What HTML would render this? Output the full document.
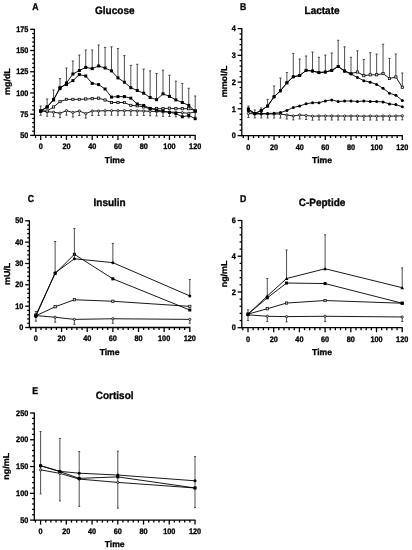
<!DOCTYPE html>
<html><head><meta charset="utf-8"><style>
html,body{margin:0;padding:0;background:#fff;}
body{width:412px;height:550px;overflow:hidden;}
svg{display:block;will-change:transform;}
text{font-family:"Liberation Sans", sans-serif;font-weight:bold;fill:#000;stroke:#000;stroke-width:0.3px;text-rendering:geometricPrecision;}
</style></head><body>
<svg width="412" height="550" viewBox="0 0 412 550">
<rect width="412" height="550" fill="#fff"/>
<line x1="34.40" y1="28.80" x2="34.40" y2="135.95" stroke="#000" stroke-width="1.3"/>
<line x1="33.85" y1="135.40" x2="195.75" y2="135.40" stroke="#000" stroke-width="1.3"/>
<line x1="30.20" y1="135.40" x2="34.40" y2="135.40" stroke="#000" stroke-width="1.3"/>
<text x="0" y="0" font-size="7.3" text-anchor="end" transform="translate(28.40 138.05) scale(1 1.1)">50</text>
<line x1="32.20" y1="131.16" x2="34.40" y2="131.16" stroke="#000" stroke-width="1.3"/>
<line x1="32.20" y1="126.91" x2="34.40" y2="126.91" stroke="#000" stroke-width="1.3"/>
<line x1="32.20" y1="122.67" x2="34.40" y2="122.67" stroke="#000" stroke-width="1.3"/>
<line x1="32.20" y1="118.42" x2="34.40" y2="118.42" stroke="#000" stroke-width="1.3"/>
<line x1="30.20" y1="114.18" x2="34.40" y2="114.18" stroke="#000" stroke-width="1.3"/>
<text x="0" y="0" font-size="7.3" text-anchor="end" transform="translate(28.40 116.83) scale(1 1.1)">75</text>
<line x1="32.20" y1="109.94" x2="34.40" y2="109.94" stroke="#000" stroke-width="1.3"/>
<line x1="32.20" y1="105.69" x2="34.40" y2="105.69" stroke="#000" stroke-width="1.3"/>
<line x1="32.20" y1="101.45" x2="34.40" y2="101.45" stroke="#000" stroke-width="1.3"/>
<line x1="32.20" y1="97.20" x2="34.40" y2="97.20" stroke="#000" stroke-width="1.3"/>
<line x1="30.20" y1="92.96" x2="34.40" y2="92.96" stroke="#000" stroke-width="1.3"/>
<text x="0" y="0" font-size="7.3" text-anchor="end" transform="translate(28.40 95.61) scale(1 1.1)">100</text>
<line x1="32.20" y1="88.72" x2="34.40" y2="88.72" stroke="#000" stroke-width="1.3"/>
<line x1="32.20" y1="84.47" x2="34.40" y2="84.47" stroke="#000" stroke-width="1.3"/>
<line x1="32.20" y1="80.23" x2="34.40" y2="80.23" stroke="#000" stroke-width="1.3"/>
<line x1="32.20" y1="75.98" x2="34.40" y2="75.98" stroke="#000" stroke-width="1.3"/>
<line x1="30.20" y1="71.74" x2="34.40" y2="71.74" stroke="#000" stroke-width="1.3"/>
<text x="0" y="0" font-size="7.3" text-anchor="end" transform="translate(28.40 74.39) scale(1 1.1)">125</text>
<line x1="32.20" y1="67.50" x2="34.40" y2="67.50" stroke="#000" stroke-width="1.3"/>
<line x1="32.20" y1="63.25" x2="34.40" y2="63.25" stroke="#000" stroke-width="1.3"/>
<line x1="32.20" y1="59.01" x2="34.40" y2="59.01" stroke="#000" stroke-width="1.3"/>
<line x1="32.20" y1="54.76" x2="34.40" y2="54.76" stroke="#000" stroke-width="1.3"/>
<line x1="30.20" y1="50.52" x2="34.40" y2="50.52" stroke="#000" stroke-width="1.3"/>
<text x="0" y="0" font-size="7.3" text-anchor="end" transform="translate(28.40 53.17) scale(1 1.1)">150</text>
<line x1="32.20" y1="46.28" x2="34.40" y2="46.28" stroke="#000" stroke-width="1.3"/>
<line x1="32.20" y1="42.03" x2="34.40" y2="42.03" stroke="#000" stroke-width="1.3"/>
<line x1="32.20" y1="37.79" x2="34.40" y2="37.79" stroke="#000" stroke-width="1.3"/>
<line x1="32.20" y1="33.54" x2="34.40" y2="33.54" stroke="#000" stroke-width="1.3"/>
<line x1="30.20" y1="29.30" x2="34.40" y2="29.30" stroke="#000" stroke-width="1.3"/>
<text x="0" y="0" font-size="7.3" text-anchor="end" transform="translate(28.40 31.95) scale(1 1.1)">175</text>
<line x1="35.55" y1="135.40" x2="35.55" y2="137.90" stroke="#000" stroke-width="1.3"/>
<line x1="40.70" y1="135.40" x2="40.70" y2="139.90" stroke="#000" stroke-width="1.3"/>
<text x="0" y="0" font-size="7.3" text-anchor="middle" transform="translate(40.70 149.30) scale(1 1.1)">0</text>
<line x1="45.85" y1="135.40" x2="45.85" y2="137.90" stroke="#000" stroke-width="1.3"/>
<line x1="51.00" y1="135.40" x2="51.00" y2="137.90" stroke="#000" stroke-width="1.3"/>
<line x1="56.15" y1="135.40" x2="56.15" y2="137.90" stroke="#000" stroke-width="1.3"/>
<line x1="61.30" y1="135.40" x2="61.30" y2="137.90" stroke="#000" stroke-width="1.3"/>
<line x1="66.45" y1="135.40" x2="66.45" y2="139.90" stroke="#000" stroke-width="1.3"/>
<text x="0" y="0" font-size="7.3" text-anchor="middle" transform="translate(66.45 149.30) scale(1 1.1)">20</text>
<line x1="71.60" y1="135.40" x2="71.60" y2="137.90" stroke="#000" stroke-width="1.3"/>
<line x1="76.75" y1="135.40" x2="76.75" y2="137.90" stroke="#000" stroke-width="1.3"/>
<line x1="81.90" y1="135.40" x2="81.90" y2="137.90" stroke="#000" stroke-width="1.3"/>
<line x1="87.05" y1="135.40" x2="87.05" y2="137.90" stroke="#000" stroke-width="1.3"/>
<line x1="92.20" y1="135.40" x2="92.20" y2="139.90" stroke="#000" stroke-width="1.3"/>
<text x="0" y="0" font-size="7.3" text-anchor="middle" transform="translate(92.20 149.30) scale(1 1.1)">40</text>
<line x1="97.35" y1="135.40" x2="97.35" y2="137.90" stroke="#000" stroke-width="1.3"/>
<line x1="102.50" y1="135.40" x2="102.50" y2="137.90" stroke="#000" stroke-width="1.3"/>
<line x1="107.65" y1="135.40" x2="107.65" y2="137.90" stroke="#000" stroke-width="1.3"/>
<line x1="112.80" y1="135.40" x2="112.80" y2="137.90" stroke="#000" stroke-width="1.3"/>
<line x1="117.95" y1="135.40" x2="117.95" y2="139.90" stroke="#000" stroke-width="1.3"/>
<text x="0" y="0" font-size="7.3" text-anchor="middle" transform="translate(117.95 149.30) scale(1 1.1)">60</text>
<line x1="123.10" y1="135.40" x2="123.10" y2="137.90" stroke="#000" stroke-width="1.3"/>
<line x1="128.25" y1="135.40" x2="128.25" y2="137.90" stroke="#000" stroke-width="1.3"/>
<line x1="133.40" y1="135.40" x2="133.40" y2="137.90" stroke="#000" stroke-width="1.3"/>
<line x1="138.55" y1="135.40" x2="138.55" y2="137.90" stroke="#000" stroke-width="1.3"/>
<line x1="143.70" y1="135.40" x2="143.70" y2="139.90" stroke="#000" stroke-width="1.3"/>
<text x="0" y="0" font-size="7.3" text-anchor="middle" transform="translate(143.70 149.30) scale(1 1.1)">80</text>
<line x1="148.85" y1="135.40" x2="148.85" y2="137.90" stroke="#000" stroke-width="1.3"/>
<line x1="154.00" y1="135.40" x2="154.00" y2="137.90" stroke="#000" stroke-width="1.3"/>
<line x1="159.15" y1="135.40" x2="159.15" y2="137.90" stroke="#000" stroke-width="1.3"/>
<line x1="164.30" y1="135.40" x2="164.30" y2="137.90" stroke="#000" stroke-width="1.3"/>
<line x1="169.45" y1="135.40" x2="169.45" y2="139.90" stroke="#000" stroke-width="1.3"/>
<text x="0" y="0" font-size="7.3" text-anchor="middle" transform="translate(169.45 149.30) scale(1 1.1)">100</text>
<line x1="174.60" y1="135.40" x2="174.60" y2="137.90" stroke="#000" stroke-width="1.3"/>
<line x1="179.75" y1="135.40" x2="179.75" y2="137.90" stroke="#000" stroke-width="1.3"/>
<line x1="184.90" y1="135.40" x2="184.90" y2="137.90" stroke="#000" stroke-width="1.3"/>
<line x1="190.05" y1="135.40" x2="190.05" y2="137.90" stroke="#000" stroke-width="1.3"/>
<line x1="195.20" y1="135.40" x2="195.20" y2="139.90" stroke="#000" stroke-width="1.3"/>
<text x="0" y="0" font-size="7.3" text-anchor="middle" transform="translate(195.20 149.30) scale(1 1.1)">120</text>
<text x="0" y="0" font-size="10" text-anchor="middle" transform="translate(114.80 13.60) scale(1 1.06)">Glucose</text>
<text x="0" y="0" font-size="8.7" text-anchor="start" transform="translate(32.20 9.60) scale(1 1.15)">A</text>
<text x="114.80" y="162.70" font-size="8.6" text-anchor="middle">Time</text>
<text x="0" y="0" font-size="8.6" text-anchor="middle" transform="translate(9.90 81.60) rotate(-90) scale(1.04 1.0)">mg/dL</text>
<line x1="241.80" y1="28.10" x2="241.80" y2="136.15" stroke="#000" stroke-width="1.3"/>
<line x1="241.25" y1="135.60" x2="402.85" y2="135.60" stroke="#000" stroke-width="1.3"/>
<line x1="237.60" y1="135.60" x2="241.80" y2="135.60" stroke="#000" stroke-width="1.3"/>
<text x="0" y="0" font-size="7.3" text-anchor="end" transform="translate(235.80 138.25) scale(1 1.1)">0</text>
<line x1="239.60" y1="130.25" x2="241.80" y2="130.25" stroke="#000" stroke-width="1.3"/>
<line x1="239.60" y1="124.90" x2="241.80" y2="124.90" stroke="#000" stroke-width="1.3"/>
<line x1="239.60" y1="119.55" x2="241.80" y2="119.55" stroke="#000" stroke-width="1.3"/>
<line x1="239.60" y1="114.20" x2="241.80" y2="114.20" stroke="#000" stroke-width="1.3"/>
<line x1="237.60" y1="108.85" x2="241.80" y2="108.85" stroke="#000" stroke-width="1.3"/>
<text x="0" y="0" font-size="7.3" text-anchor="end" transform="translate(235.80 111.50) scale(1 1.1)">1</text>
<line x1="239.60" y1="103.50" x2="241.80" y2="103.50" stroke="#000" stroke-width="1.3"/>
<line x1="239.60" y1="98.15" x2="241.80" y2="98.15" stroke="#000" stroke-width="1.3"/>
<line x1="239.60" y1="92.80" x2="241.80" y2="92.80" stroke="#000" stroke-width="1.3"/>
<line x1="239.60" y1="87.45" x2="241.80" y2="87.45" stroke="#000" stroke-width="1.3"/>
<line x1="237.60" y1="82.10" x2="241.80" y2="82.10" stroke="#000" stroke-width="1.3"/>
<text x="0" y="0" font-size="7.3" text-anchor="end" transform="translate(235.80 84.75) scale(1 1.1)">2</text>
<line x1="239.60" y1="76.75" x2="241.80" y2="76.75" stroke="#000" stroke-width="1.3"/>
<line x1="239.60" y1="71.40" x2="241.80" y2="71.40" stroke="#000" stroke-width="1.3"/>
<line x1="239.60" y1="66.05" x2="241.80" y2="66.05" stroke="#000" stroke-width="1.3"/>
<line x1="239.60" y1="60.70" x2="241.80" y2="60.70" stroke="#000" stroke-width="1.3"/>
<line x1="237.60" y1="55.35" x2="241.80" y2="55.35" stroke="#000" stroke-width="1.3"/>
<text x="0" y="0" font-size="7.3" text-anchor="end" transform="translate(235.80 58.00) scale(1 1.1)">3</text>
<line x1="239.60" y1="50.00" x2="241.80" y2="50.00" stroke="#000" stroke-width="1.3"/>
<line x1="239.60" y1="44.65" x2="241.80" y2="44.65" stroke="#000" stroke-width="1.3"/>
<line x1="239.60" y1="39.30" x2="241.80" y2="39.30" stroke="#000" stroke-width="1.3"/>
<line x1="239.60" y1="33.95" x2="241.80" y2="33.95" stroke="#000" stroke-width="1.3"/>
<line x1="237.60" y1="28.60" x2="241.80" y2="28.60" stroke="#000" stroke-width="1.3"/>
<text x="0" y="0" font-size="7.3" text-anchor="end" transform="translate(235.80 31.25) scale(1 1.1)">4</text>
<line x1="243.27" y1="135.60" x2="243.27" y2="138.10" stroke="#000" stroke-width="1.3"/>
<line x1="248.40" y1="135.60" x2="248.40" y2="140.10" stroke="#000" stroke-width="1.3"/>
<text x="0" y="0" font-size="7.3" text-anchor="middle" transform="translate(248.40 149.50) scale(1 1.1)">0</text>
<line x1="253.53" y1="135.60" x2="253.53" y2="138.10" stroke="#000" stroke-width="1.3"/>
<line x1="258.66" y1="135.60" x2="258.66" y2="138.10" stroke="#000" stroke-width="1.3"/>
<line x1="263.79" y1="135.60" x2="263.79" y2="138.10" stroke="#000" stroke-width="1.3"/>
<line x1="268.92" y1="135.60" x2="268.92" y2="138.10" stroke="#000" stroke-width="1.3"/>
<line x1="274.05" y1="135.60" x2="274.05" y2="140.10" stroke="#000" stroke-width="1.3"/>
<text x="0" y="0" font-size="7.3" text-anchor="middle" transform="translate(274.05 149.50) scale(1 1.1)">20</text>
<line x1="279.18" y1="135.60" x2="279.18" y2="138.10" stroke="#000" stroke-width="1.3"/>
<line x1="284.31" y1="135.60" x2="284.31" y2="138.10" stroke="#000" stroke-width="1.3"/>
<line x1="289.44" y1="135.60" x2="289.44" y2="138.10" stroke="#000" stroke-width="1.3"/>
<line x1="294.57" y1="135.60" x2="294.57" y2="138.10" stroke="#000" stroke-width="1.3"/>
<line x1="299.70" y1="135.60" x2="299.70" y2="140.10" stroke="#000" stroke-width="1.3"/>
<text x="0" y="0" font-size="7.3" text-anchor="middle" transform="translate(299.70 149.50) scale(1 1.1)">40</text>
<line x1="304.83" y1="135.60" x2="304.83" y2="138.10" stroke="#000" stroke-width="1.3"/>
<line x1="309.96" y1="135.60" x2="309.96" y2="138.10" stroke="#000" stroke-width="1.3"/>
<line x1="315.09" y1="135.60" x2="315.09" y2="138.10" stroke="#000" stroke-width="1.3"/>
<line x1="320.22" y1="135.60" x2="320.22" y2="138.10" stroke="#000" stroke-width="1.3"/>
<line x1="325.35" y1="135.60" x2="325.35" y2="140.10" stroke="#000" stroke-width="1.3"/>
<text x="0" y="0" font-size="7.3" text-anchor="middle" transform="translate(325.35 149.50) scale(1 1.1)">60</text>
<line x1="330.48" y1="135.60" x2="330.48" y2="138.10" stroke="#000" stroke-width="1.3"/>
<line x1="335.61" y1="135.60" x2="335.61" y2="138.10" stroke="#000" stroke-width="1.3"/>
<line x1="340.74" y1="135.60" x2="340.74" y2="138.10" stroke="#000" stroke-width="1.3"/>
<line x1="345.87" y1="135.60" x2="345.87" y2="138.10" stroke="#000" stroke-width="1.3"/>
<line x1="351.00" y1="135.60" x2="351.00" y2="140.10" stroke="#000" stroke-width="1.3"/>
<text x="0" y="0" font-size="7.3" text-anchor="middle" transform="translate(351.00 149.50) scale(1 1.1)">80</text>
<line x1="356.13" y1="135.60" x2="356.13" y2="138.10" stroke="#000" stroke-width="1.3"/>
<line x1="361.26" y1="135.60" x2="361.26" y2="138.10" stroke="#000" stroke-width="1.3"/>
<line x1="366.39" y1="135.60" x2="366.39" y2="138.10" stroke="#000" stroke-width="1.3"/>
<line x1="371.52" y1="135.60" x2="371.52" y2="138.10" stroke="#000" stroke-width="1.3"/>
<line x1="376.65" y1="135.60" x2="376.65" y2="140.10" stroke="#000" stroke-width="1.3"/>
<text x="0" y="0" font-size="7.3" text-anchor="middle" transform="translate(376.65 149.50) scale(1 1.1)">100</text>
<line x1="381.78" y1="135.60" x2="381.78" y2="138.10" stroke="#000" stroke-width="1.3"/>
<line x1="386.91" y1="135.60" x2="386.91" y2="138.10" stroke="#000" stroke-width="1.3"/>
<line x1="392.04" y1="135.60" x2="392.04" y2="138.10" stroke="#000" stroke-width="1.3"/>
<line x1="397.17" y1="135.60" x2="397.17" y2="138.10" stroke="#000" stroke-width="1.3"/>
<line x1="402.30" y1="135.60" x2="402.30" y2="140.10" stroke="#000" stroke-width="1.3"/>
<text x="0" y="0" font-size="7.3" text-anchor="middle" transform="translate(402.30 149.50) scale(1 1.1)">120</text>
<text x="0" y="0" font-size="10" text-anchor="middle" transform="translate(322.05 13.80) scale(1 1.06)">Lactate</text>
<text x="0" y="0" font-size="8.7" text-anchor="start" transform="translate(240.00 9.50) scale(1 1.15)">B</text>
<text x="322.05" y="162.90" font-size="8.6" text-anchor="middle">Time</text>
<text x="0" y="0" font-size="8.6" text-anchor="middle" transform="translate(227.30 81.40) rotate(-90) scale(1.04 1.0)">mmol/L</text>
<line x1="29.40" y1="220.30" x2="29.40" y2="328.05" stroke="#000" stroke-width="1.3"/>
<line x1="28.85" y1="327.50" x2="190.35" y2="327.50" stroke="#000" stroke-width="1.3"/>
<line x1="25.20" y1="327.50" x2="29.40" y2="327.50" stroke="#000" stroke-width="1.3"/>
<text x="0" y="0" font-size="7.3" text-anchor="end" transform="translate(23.40 330.15) scale(1 1.1)">0</text>
<line x1="27.20" y1="323.23" x2="29.40" y2="323.23" stroke="#000" stroke-width="1.3"/>
<line x1="27.20" y1="318.96" x2="29.40" y2="318.96" stroke="#000" stroke-width="1.3"/>
<line x1="27.20" y1="314.70" x2="29.40" y2="314.70" stroke="#000" stroke-width="1.3"/>
<line x1="27.20" y1="310.43" x2="29.40" y2="310.43" stroke="#000" stroke-width="1.3"/>
<line x1="25.20" y1="306.16" x2="29.40" y2="306.16" stroke="#000" stroke-width="1.3"/>
<text x="0" y="0" font-size="7.3" text-anchor="end" transform="translate(23.40 308.81) scale(1 1.1)">10</text>
<line x1="27.20" y1="301.89" x2="29.40" y2="301.89" stroke="#000" stroke-width="1.3"/>
<line x1="27.20" y1="297.62" x2="29.40" y2="297.62" stroke="#000" stroke-width="1.3"/>
<line x1="27.20" y1="293.36" x2="29.40" y2="293.36" stroke="#000" stroke-width="1.3"/>
<line x1="27.20" y1="289.09" x2="29.40" y2="289.09" stroke="#000" stroke-width="1.3"/>
<line x1="25.20" y1="284.82" x2="29.40" y2="284.82" stroke="#000" stroke-width="1.3"/>
<text x="0" y="0" font-size="7.3" text-anchor="end" transform="translate(23.40 287.47) scale(1 1.1)">20</text>
<line x1="27.20" y1="280.55" x2="29.40" y2="280.55" stroke="#000" stroke-width="1.3"/>
<line x1="27.20" y1="276.28" x2="29.40" y2="276.28" stroke="#000" stroke-width="1.3"/>
<line x1="27.20" y1="272.02" x2="29.40" y2="272.02" stroke="#000" stroke-width="1.3"/>
<line x1="27.20" y1="267.75" x2="29.40" y2="267.75" stroke="#000" stroke-width="1.3"/>
<line x1="25.20" y1="263.48" x2="29.40" y2="263.48" stroke="#000" stroke-width="1.3"/>
<text x="0" y="0" font-size="7.3" text-anchor="end" transform="translate(23.40 266.13) scale(1 1.1)">30</text>
<line x1="27.20" y1="259.21" x2="29.40" y2="259.21" stroke="#000" stroke-width="1.3"/>
<line x1="27.20" y1="254.94" x2="29.40" y2="254.94" stroke="#000" stroke-width="1.3"/>
<line x1="27.20" y1="250.68" x2="29.40" y2="250.68" stroke="#000" stroke-width="1.3"/>
<line x1="27.20" y1="246.41" x2="29.40" y2="246.41" stroke="#000" stroke-width="1.3"/>
<line x1="25.20" y1="242.14" x2="29.40" y2="242.14" stroke="#000" stroke-width="1.3"/>
<text x="0" y="0" font-size="7.3" text-anchor="end" transform="translate(23.40 244.79) scale(1 1.1)">40</text>
<line x1="27.20" y1="237.87" x2="29.40" y2="237.87" stroke="#000" stroke-width="1.3"/>
<line x1="27.20" y1="233.60" x2="29.40" y2="233.60" stroke="#000" stroke-width="1.3"/>
<line x1="27.20" y1="229.34" x2="29.40" y2="229.34" stroke="#000" stroke-width="1.3"/>
<line x1="27.20" y1="225.07" x2="29.40" y2="225.07" stroke="#000" stroke-width="1.3"/>
<line x1="25.20" y1="220.80" x2="29.40" y2="220.80" stroke="#000" stroke-width="1.3"/>
<text x="0" y="0" font-size="7.3" text-anchor="end" transform="translate(23.40 223.45) scale(1 1.1)">50</text>
<line x1="30.77" y1="327.50" x2="30.77" y2="330.00" stroke="#000" stroke-width="1.3"/>
<line x1="35.90" y1="327.50" x2="35.90" y2="332.00" stroke="#000" stroke-width="1.3"/>
<text x="0" y="0" font-size="7.3" text-anchor="middle" transform="translate(35.90 341.40) scale(1 1.1)">0</text>
<line x1="41.03" y1="327.50" x2="41.03" y2="330.00" stroke="#000" stroke-width="1.3"/>
<line x1="46.16" y1="327.50" x2="46.16" y2="330.00" stroke="#000" stroke-width="1.3"/>
<line x1="51.29" y1="327.50" x2="51.29" y2="330.00" stroke="#000" stroke-width="1.3"/>
<line x1="56.42" y1="327.50" x2="56.42" y2="330.00" stroke="#000" stroke-width="1.3"/>
<line x1="61.55" y1="327.50" x2="61.55" y2="332.00" stroke="#000" stroke-width="1.3"/>
<text x="0" y="0" font-size="7.3" text-anchor="middle" transform="translate(61.55 341.40) scale(1 1.1)">20</text>
<line x1="66.68" y1="327.50" x2="66.68" y2="330.00" stroke="#000" stroke-width="1.3"/>
<line x1="71.81" y1="327.50" x2="71.81" y2="330.00" stroke="#000" stroke-width="1.3"/>
<line x1="76.94" y1="327.50" x2="76.94" y2="330.00" stroke="#000" stroke-width="1.3"/>
<line x1="82.07" y1="327.50" x2="82.07" y2="330.00" stroke="#000" stroke-width="1.3"/>
<line x1="87.20" y1="327.50" x2="87.20" y2="332.00" stroke="#000" stroke-width="1.3"/>
<text x="0" y="0" font-size="7.3" text-anchor="middle" transform="translate(87.20 341.40) scale(1 1.1)">40</text>
<line x1="92.33" y1="327.50" x2="92.33" y2="330.00" stroke="#000" stroke-width="1.3"/>
<line x1="97.46" y1="327.50" x2="97.46" y2="330.00" stroke="#000" stroke-width="1.3"/>
<line x1="102.59" y1="327.50" x2="102.59" y2="330.00" stroke="#000" stroke-width="1.3"/>
<line x1="107.72" y1="327.50" x2="107.72" y2="330.00" stroke="#000" stroke-width="1.3"/>
<line x1="112.85" y1="327.50" x2="112.85" y2="332.00" stroke="#000" stroke-width="1.3"/>
<text x="0" y="0" font-size="7.3" text-anchor="middle" transform="translate(112.85 341.40) scale(1 1.1)">60</text>
<line x1="117.98" y1="327.50" x2="117.98" y2="330.00" stroke="#000" stroke-width="1.3"/>
<line x1="123.11" y1="327.50" x2="123.11" y2="330.00" stroke="#000" stroke-width="1.3"/>
<line x1="128.24" y1="327.50" x2="128.24" y2="330.00" stroke="#000" stroke-width="1.3"/>
<line x1="133.37" y1="327.50" x2="133.37" y2="330.00" stroke="#000" stroke-width="1.3"/>
<line x1="138.50" y1="327.50" x2="138.50" y2="332.00" stroke="#000" stroke-width="1.3"/>
<text x="0" y="0" font-size="7.3" text-anchor="middle" transform="translate(138.50 341.40) scale(1 1.1)">80</text>
<line x1="143.63" y1="327.50" x2="143.63" y2="330.00" stroke="#000" stroke-width="1.3"/>
<line x1="148.76" y1="327.50" x2="148.76" y2="330.00" stroke="#000" stroke-width="1.3"/>
<line x1="153.89" y1="327.50" x2="153.89" y2="330.00" stroke="#000" stroke-width="1.3"/>
<line x1="159.02" y1="327.50" x2="159.02" y2="330.00" stroke="#000" stroke-width="1.3"/>
<line x1="164.15" y1="327.50" x2="164.15" y2="332.00" stroke="#000" stroke-width="1.3"/>
<text x="0" y="0" font-size="7.3" text-anchor="middle" transform="translate(164.15 341.40) scale(1 1.1)">100</text>
<line x1="169.28" y1="327.50" x2="169.28" y2="330.00" stroke="#000" stroke-width="1.3"/>
<line x1="174.41" y1="327.50" x2="174.41" y2="330.00" stroke="#000" stroke-width="1.3"/>
<line x1="179.54" y1="327.50" x2="179.54" y2="330.00" stroke="#000" stroke-width="1.3"/>
<line x1="184.67" y1="327.50" x2="184.67" y2="330.00" stroke="#000" stroke-width="1.3"/>
<line x1="189.80" y1="327.50" x2="189.80" y2="332.00" stroke="#000" stroke-width="1.3"/>
<text x="0" y="0" font-size="7.3" text-anchor="middle" transform="translate(189.80 341.40) scale(1 1.1)">120</text>
<text x="0" y="0" font-size="10" text-anchor="middle" transform="translate(109.60 206.00) scale(1 1.06)">Insulin</text>
<text x="0" y="0" font-size="8.7" text-anchor="start" transform="translate(27.70 201.90) scale(1 1.15)">C</text>
<text x="109.60" y="354.80" font-size="8.6" text-anchor="middle">Time</text>
<text x="0" y="0" font-size="8.6" text-anchor="middle" transform="translate(9.50 273.90) rotate(-90) scale(1.04 1.0)">mU/L</text>
<line x1="241.80" y1="220.00" x2="241.80" y2="328.25" stroke="#000" stroke-width="1.3"/>
<line x1="241.25" y1="327.70" x2="402.75" y2="327.70" stroke="#000" stroke-width="1.3"/>
<line x1="237.60" y1="327.70" x2="241.80" y2="327.70" stroke="#000" stroke-width="1.3"/>
<text x="0" y="0" font-size="7.3" text-anchor="end" transform="translate(235.80 330.35) scale(1 1.1)">0</text>
<line x1="239.60" y1="320.55" x2="241.80" y2="320.55" stroke="#000" stroke-width="1.3"/>
<line x1="239.60" y1="313.41" x2="241.80" y2="313.41" stroke="#000" stroke-width="1.3"/>
<line x1="239.60" y1="306.26" x2="241.80" y2="306.26" stroke="#000" stroke-width="1.3"/>
<line x1="239.60" y1="299.11" x2="241.80" y2="299.11" stroke="#000" stroke-width="1.3"/>
<line x1="237.60" y1="291.97" x2="241.80" y2="291.97" stroke="#000" stroke-width="1.3"/>
<text x="0" y="0" font-size="7.3" text-anchor="end" transform="translate(235.80 294.62) scale(1 1.1)">2</text>
<line x1="239.60" y1="284.82" x2="241.80" y2="284.82" stroke="#000" stroke-width="1.3"/>
<line x1="239.60" y1="277.67" x2="241.80" y2="277.67" stroke="#000" stroke-width="1.3"/>
<line x1="239.60" y1="270.53" x2="241.80" y2="270.53" stroke="#000" stroke-width="1.3"/>
<line x1="239.60" y1="263.38" x2="241.80" y2="263.38" stroke="#000" stroke-width="1.3"/>
<line x1="237.60" y1="256.23" x2="241.80" y2="256.23" stroke="#000" stroke-width="1.3"/>
<text x="0" y="0" font-size="7.3" text-anchor="end" transform="translate(235.80 258.88) scale(1 1.1)">4</text>
<line x1="239.60" y1="249.09" x2="241.80" y2="249.09" stroke="#000" stroke-width="1.3"/>
<line x1="239.60" y1="241.94" x2="241.80" y2="241.94" stroke="#000" stroke-width="1.3"/>
<line x1="239.60" y1="234.79" x2="241.80" y2="234.79" stroke="#000" stroke-width="1.3"/>
<line x1="239.60" y1="227.65" x2="241.80" y2="227.65" stroke="#000" stroke-width="1.3"/>
<line x1="237.60" y1="220.50" x2="241.80" y2="220.50" stroke="#000" stroke-width="1.3"/>
<text x="0" y="0" font-size="7.3" text-anchor="end" transform="translate(235.80 223.15) scale(1 1.1)">6</text>
<line x1="242.86" y1="327.70" x2="242.86" y2="330.20" stroke="#000" stroke-width="1.3"/>
<line x1="248.00" y1="327.70" x2="248.00" y2="332.20" stroke="#000" stroke-width="1.3"/>
<text x="0" y="0" font-size="7.3" text-anchor="middle" transform="translate(248.00 341.60) scale(1 1.1)">0</text>
<line x1="253.14" y1="327.70" x2="253.14" y2="330.20" stroke="#000" stroke-width="1.3"/>
<line x1="258.28" y1="327.70" x2="258.28" y2="330.20" stroke="#000" stroke-width="1.3"/>
<line x1="263.42" y1="327.70" x2="263.42" y2="330.20" stroke="#000" stroke-width="1.3"/>
<line x1="268.56" y1="327.70" x2="268.56" y2="330.20" stroke="#000" stroke-width="1.3"/>
<line x1="273.70" y1="327.70" x2="273.70" y2="332.20" stroke="#000" stroke-width="1.3"/>
<text x="0" y="0" font-size="7.3" text-anchor="middle" transform="translate(273.70 341.60) scale(1 1.1)">20</text>
<line x1="278.84" y1="327.70" x2="278.84" y2="330.20" stroke="#000" stroke-width="1.3"/>
<line x1="283.98" y1="327.70" x2="283.98" y2="330.20" stroke="#000" stroke-width="1.3"/>
<line x1="289.12" y1="327.70" x2="289.12" y2="330.20" stroke="#000" stroke-width="1.3"/>
<line x1="294.26" y1="327.70" x2="294.26" y2="330.20" stroke="#000" stroke-width="1.3"/>
<line x1="299.40" y1="327.70" x2="299.40" y2="332.20" stroke="#000" stroke-width="1.3"/>
<text x="0" y="0" font-size="7.3" text-anchor="middle" transform="translate(299.40 341.60) scale(1 1.1)">40</text>
<line x1="304.54" y1="327.70" x2="304.54" y2="330.20" stroke="#000" stroke-width="1.3"/>
<line x1="309.68" y1="327.70" x2="309.68" y2="330.20" stroke="#000" stroke-width="1.3"/>
<line x1="314.82" y1="327.70" x2="314.82" y2="330.20" stroke="#000" stroke-width="1.3"/>
<line x1="319.96" y1="327.70" x2="319.96" y2="330.20" stroke="#000" stroke-width="1.3"/>
<line x1="325.10" y1="327.70" x2="325.10" y2="332.20" stroke="#000" stroke-width="1.3"/>
<text x="0" y="0" font-size="7.3" text-anchor="middle" transform="translate(325.10 341.60) scale(1 1.1)">60</text>
<line x1="330.24" y1="327.70" x2="330.24" y2="330.20" stroke="#000" stroke-width="1.3"/>
<line x1="335.38" y1="327.70" x2="335.38" y2="330.20" stroke="#000" stroke-width="1.3"/>
<line x1="340.52" y1="327.70" x2="340.52" y2="330.20" stroke="#000" stroke-width="1.3"/>
<line x1="345.66" y1="327.70" x2="345.66" y2="330.20" stroke="#000" stroke-width="1.3"/>
<line x1="350.80" y1="327.70" x2="350.80" y2="332.20" stroke="#000" stroke-width="1.3"/>
<text x="0" y="0" font-size="7.3" text-anchor="middle" transform="translate(350.80 341.60) scale(1 1.1)">80</text>
<line x1="355.94" y1="327.70" x2="355.94" y2="330.20" stroke="#000" stroke-width="1.3"/>
<line x1="361.08" y1="327.70" x2="361.08" y2="330.20" stroke="#000" stroke-width="1.3"/>
<line x1="366.22" y1="327.70" x2="366.22" y2="330.20" stroke="#000" stroke-width="1.3"/>
<line x1="371.36" y1="327.70" x2="371.36" y2="330.20" stroke="#000" stroke-width="1.3"/>
<line x1="376.50" y1="327.70" x2="376.50" y2="332.20" stroke="#000" stroke-width="1.3"/>
<text x="0" y="0" font-size="7.3" text-anchor="middle" transform="translate(376.50 341.60) scale(1 1.1)">100</text>
<line x1="381.64" y1="327.70" x2="381.64" y2="330.20" stroke="#000" stroke-width="1.3"/>
<line x1="386.78" y1="327.70" x2="386.78" y2="330.20" stroke="#000" stroke-width="1.3"/>
<line x1="391.92" y1="327.70" x2="391.92" y2="330.20" stroke="#000" stroke-width="1.3"/>
<line x1="397.06" y1="327.70" x2="397.06" y2="330.20" stroke="#000" stroke-width="1.3"/>
<line x1="402.20" y1="327.70" x2="402.20" y2="332.20" stroke="#000" stroke-width="1.3"/>
<text x="0" y="0" font-size="7.3" text-anchor="middle" transform="translate(402.20 341.60) scale(1 1.1)">120</text>
<text x="0" y="0" font-size="10" text-anchor="middle" transform="translate(322.00 206.00) scale(1 1.06)">C-Peptide</text>
<text x="0" y="0" font-size="8.7" text-anchor="start" transform="translate(239.90 201.60) scale(1 1.15)">D</text>
<text x="322.00" y="355.00" font-size="8.6" text-anchor="middle">Time</text>
<text x="0" y="0" font-size="8.6" text-anchor="middle" transform="translate(226.50 273.90) rotate(-90) scale(1.04 1.0)">ng/mL</text>
<line x1="34.30" y1="412.50" x2="34.30" y2="520.65" stroke="#000" stroke-width="1.3"/>
<line x1="33.75" y1="520.10" x2="195.55" y2="520.10" stroke="#000" stroke-width="1.3"/>
<line x1="30.10" y1="520.10" x2="34.30" y2="520.10" stroke="#000" stroke-width="1.3"/>
<text x="0" y="0" font-size="7.3" text-anchor="end" transform="translate(28.30 522.75) scale(1 1.1)">50</text>
<line x1="32.10" y1="514.75" x2="34.30" y2="514.75" stroke="#000" stroke-width="1.3"/>
<line x1="32.10" y1="509.39" x2="34.30" y2="509.39" stroke="#000" stroke-width="1.3"/>
<line x1="32.10" y1="504.04" x2="34.30" y2="504.04" stroke="#000" stroke-width="1.3"/>
<line x1="32.10" y1="498.68" x2="34.30" y2="498.68" stroke="#000" stroke-width="1.3"/>
<line x1="30.10" y1="493.33" x2="34.30" y2="493.33" stroke="#000" stroke-width="1.3"/>
<text x="0" y="0" font-size="7.3" text-anchor="end" transform="translate(28.30 495.98) scale(1 1.1)">100</text>
<line x1="32.10" y1="487.97" x2="34.30" y2="487.97" stroke="#000" stroke-width="1.3"/>
<line x1="32.10" y1="482.62" x2="34.30" y2="482.62" stroke="#000" stroke-width="1.3"/>
<line x1="32.10" y1="477.26" x2="34.30" y2="477.26" stroke="#000" stroke-width="1.3"/>
<line x1="32.10" y1="471.91" x2="34.30" y2="471.91" stroke="#000" stroke-width="1.3"/>
<line x1="30.10" y1="466.55" x2="34.30" y2="466.55" stroke="#000" stroke-width="1.3"/>
<text x="0" y="0" font-size="7.3" text-anchor="end" transform="translate(28.30 469.20) scale(1 1.1)">150</text>
<line x1="32.10" y1="461.19" x2="34.30" y2="461.19" stroke="#000" stroke-width="1.3"/>
<line x1="32.10" y1="455.84" x2="34.30" y2="455.84" stroke="#000" stroke-width="1.3"/>
<line x1="32.10" y1="450.49" x2="34.30" y2="450.49" stroke="#000" stroke-width="1.3"/>
<line x1="32.10" y1="445.13" x2="34.30" y2="445.13" stroke="#000" stroke-width="1.3"/>
<line x1="30.10" y1="439.77" x2="34.30" y2="439.77" stroke="#000" stroke-width="1.3"/>
<text x="0" y="0" font-size="7.3" text-anchor="end" transform="translate(28.30 442.42) scale(1 1.1)">200</text>
<line x1="32.10" y1="434.42" x2="34.30" y2="434.42" stroke="#000" stroke-width="1.3"/>
<line x1="32.10" y1="429.06" x2="34.30" y2="429.06" stroke="#000" stroke-width="1.3"/>
<line x1="32.10" y1="423.71" x2="34.30" y2="423.71" stroke="#000" stroke-width="1.3"/>
<line x1="32.10" y1="418.36" x2="34.30" y2="418.36" stroke="#000" stroke-width="1.3"/>
<line x1="30.10" y1="413.00" x2="34.30" y2="413.00" stroke="#000" stroke-width="1.3"/>
<text x="0" y="0" font-size="7.3" text-anchor="end" transform="translate(28.30 415.65) scale(1 1.1)">250</text>
<line x1="35.45" y1="520.10" x2="35.45" y2="522.60" stroke="#000" stroke-width="1.3"/>
<line x1="40.60" y1="520.10" x2="40.60" y2="524.60" stroke="#000" stroke-width="1.3"/>
<text x="0" y="0" font-size="7.3" text-anchor="middle" transform="translate(40.60 534.00) scale(1 1.1)">0</text>
<line x1="45.75" y1="520.10" x2="45.75" y2="522.60" stroke="#000" stroke-width="1.3"/>
<line x1="50.89" y1="520.10" x2="50.89" y2="522.60" stroke="#000" stroke-width="1.3"/>
<line x1="56.04" y1="520.10" x2="56.04" y2="522.60" stroke="#000" stroke-width="1.3"/>
<line x1="61.19" y1="520.10" x2="61.19" y2="522.60" stroke="#000" stroke-width="1.3"/>
<line x1="66.33" y1="520.10" x2="66.33" y2="524.60" stroke="#000" stroke-width="1.3"/>
<text x="0" y="0" font-size="7.3" text-anchor="middle" transform="translate(66.33 534.00) scale(1 1.1)">20</text>
<line x1="71.48" y1="520.10" x2="71.48" y2="522.60" stroke="#000" stroke-width="1.3"/>
<line x1="76.63" y1="520.10" x2="76.63" y2="522.60" stroke="#000" stroke-width="1.3"/>
<line x1="81.77" y1="520.10" x2="81.77" y2="522.60" stroke="#000" stroke-width="1.3"/>
<line x1="86.92" y1="520.10" x2="86.92" y2="522.60" stroke="#000" stroke-width="1.3"/>
<line x1="92.07" y1="520.10" x2="92.07" y2="524.60" stroke="#000" stroke-width="1.3"/>
<text x="0" y="0" font-size="7.3" text-anchor="middle" transform="translate(92.07 534.00) scale(1 1.1)">40</text>
<line x1="97.21" y1="520.10" x2="97.21" y2="522.60" stroke="#000" stroke-width="1.3"/>
<line x1="102.36" y1="520.10" x2="102.36" y2="522.60" stroke="#000" stroke-width="1.3"/>
<line x1="107.51" y1="520.10" x2="107.51" y2="522.60" stroke="#000" stroke-width="1.3"/>
<line x1="112.65" y1="520.10" x2="112.65" y2="522.60" stroke="#000" stroke-width="1.3"/>
<line x1="117.80" y1="520.10" x2="117.80" y2="524.60" stroke="#000" stroke-width="1.3"/>
<text x="0" y="0" font-size="7.3" text-anchor="middle" transform="translate(117.80 534.00) scale(1 1.1)">60</text>
<line x1="122.95" y1="520.10" x2="122.95" y2="522.60" stroke="#000" stroke-width="1.3"/>
<line x1="128.09" y1="520.10" x2="128.09" y2="522.60" stroke="#000" stroke-width="1.3"/>
<line x1="133.24" y1="520.10" x2="133.24" y2="522.60" stroke="#000" stroke-width="1.3"/>
<line x1="138.39" y1="520.10" x2="138.39" y2="522.60" stroke="#000" stroke-width="1.3"/>
<line x1="143.53" y1="520.10" x2="143.53" y2="524.60" stroke="#000" stroke-width="1.3"/>
<text x="0" y="0" font-size="7.3" text-anchor="middle" transform="translate(143.53 534.00) scale(1 1.1)">80</text>
<line x1="148.68" y1="520.10" x2="148.68" y2="522.60" stroke="#000" stroke-width="1.3"/>
<line x1="153.83" y1="520.10" x2="153.83" y2="522.60" stroke="#000" stroke-width="1.3"/>
<line x1="158.97" y1="520.10" x2="158.97" y2="522.60" stroke="#000" stroke-width="1.3"/>
<line x1="164.12" y1="520.10" x2="164.12" y2="522.60" stroke="#000" stroke-width="1.3"/>
<line x1="169.27" y1="520.10" x2="169.27" y2="524.60" stroke="#000" stroke-width="1.3"/>
<text x="0" y="0" font-size="7.3" text-anchor="middle" transform="translate(169.27 534.00) scale(1 1.1)">100</text>
<line x1="174.41" y1="520.10" x2="174.41" y2="522.60" stroke="#000" stroke-width="1.3"/>
<line x1="179.56" y1="520.10" x2="179.56" y2="522.60" stroke="#000" stroke-width="1.3"/>
<line x1="184.71" y1="520.10" x2="184.71" y2="522.60" stroke="#000" stroke-width="1.3"/>
<line x1="189.85" y1="520.10" x2="189.85" y2="522.60" stroke="#000" stroke-width="1.3"/>
<line x1="195.00" y1="520.10" x2="195.00" y2="524.60" stroke="#000" stroke-width="1.3"/>
<text x="0" y="0" font-size="7.3" text-anchor="middle" transform="translate(195.00 534.00) scale(1 1.1)">120</text>
<text x="0" y="0" font-size="10" text-anchor="middle" transform="translate(114.65 398.60) scale(1 1.06)">Cortisol</text>
<text x="0" y="0" font-size="8.7" text-anchor="start" transform="translate(32.30 394.00) scale(1 1.15)">E</text>
<text x="114.65" y="547.40" font-size="8.6" text-anchor="middle">Time</text>
<text x="0" y="0" font-size="8.6" text-anchor="middle" transform="translate(9.20 466.30) rotate(-90) scale(1.04 1.0)">ng/mL</text>
<line x1="40.70" y1="110.70" x2="40.70" y2="115.20" stroke="#3c3c3c" stroke-width="0.9"/>
<line x1="39.60" y1="115.20" x2="41.80" y2="115.20" stroke="#3c3c3c" stroke-width="0.9"/>
<line x1="47.14" y1="111.70" x2="47.14" y2="116.20" stroke="#3c3c3c" stroke-width="0.9"/>
<line x1="46.04" y1="116.20" x2="48.24" y2="116.20" stroke="#3c3c3c" stroke-width="0.9"/>
<line x1="53.58" y1="112.20" x2="53.58" y2="116.70" stroke="#3c3c3c" stroke-width="0.9"/>
<line x1="52.48" y1="116.70" x2="54.68" y2="116.70" stroke="#3c3c3c" stroke-width="0.9"/>
<line x1="60.01" y1="113.20" x2="60.01" y2="117.70" stroke="#3c3c3c" stroke-width="0.9"/>
<line x1="58.91" y1="117.70" x2="61.11" y2="117.70" stroke="#3c3c3c" stroke-width="0.9"/>
<line x1="66.45" y1="110.70" x2="66.45" y2="115.20" stroke="#3c3c3c" stroke-width="0.9"/>
<line x1="65.35" y1="115.20" x2="67.55" y2="115.20" stroke="#3c3c3c" stroke-width="0.9"/>
<line x1="72.89" y1="112.50" x2="72.89" y2="117.00" stroke="#3c3c3c" stroke-width="0.9"/>
<line x1="71.79" y1="117.00" x2="73.99" y2="117.00" stroke="#3c3c3c" stroke-width="0.9"/>
<line x1="79.33" y1="111.00" x2="79.33" y2="115.50" stroke="#3c3c3c" stroke-width="0.9"/>
<line x1="78.23" y1="115.50" x2="80.42" y2="115.50" stroke="#3c3c3c" stroke-width="0.9"/>
<line x1="85.76" y1="113.60" x2="85.76" y2="118.10" stroke="#3c3c3c" stroke-width="0.9"/>
<line x1="84.66" y1="118.10" x2="86.86" y2="118.10" stroke="#3c3c3c" stroke-width="0.9"/>
<line x1="92.20" y1="111.00" x2="92.20" y2="115.50" stroke="#3c3c3c" stroke-width="0.9"/>
<line x1="91.10" y1="115.50" x2="93.30" y2="115.50" stroke="#3c3c3c" stroke-width="0.9"/>
<line x1="98.64" y1="111.00" x2="98.64" y2="115.50" stroke="#3c3c3c" stroke-width="0.9"/>
<line x1="97.54" y1="115.50" x2="99.74" y2="115.50" stroke="#3c3c3c" stroke-width="0.9"/>
<line x1="105.08" y1="110.70" x2="105.08" y2="115.20" stroke="#3c3c3c" stroke-width="0.9"/>
<line x1="103.98" y1="115.20" x2="106.17" y2="115.20" stroke="#3c3c3c" stroke-width="0.9"/>
<line x1="111.51" y1="110.70" x2="111.51" y2="115.20" stroke="#3c3c3c" stroke-width="0.9"/>
<line x1="110.41" y1="115.20" x2="112.61" y2="115.20" stroke="#3c3c3c" stroke-width="0.9"/>
<line x1="117.95" y1="110.70" x2="117.95" y2="115.20" stroke="#3c3c3c" stroke-width="0.9"/>
<line x1="116.85" y1="115.20" x2="119.05" y2="115.20" stroke="#3c3c3c" stroke-width="0.9"/>
<line x1="124.39" y1="110.70" x2="124.39" y2="115.20" stroke="#3c3c3c" stroke-width="0.9"/>
<line x1="123.29" y1="115.20" x2="125.49" y2="115.20" stroke="#3c3c3c" stroke-width="0.9"/>
<line x1="130.82" y1="110.70" x2="130.82" y2="115.20" stroke="#3c3c3c" stroke-width="0.9"/>
<line x1="129.72" y1="115.20" x2="131.92" y2="115.20" stroke="#3c3c3c" stroke-width="0.9"/>
<line x1="137.26" y1="110.90" x2="137.26" y2="115.40" stroke="#3c3c3c" stroke-width="0.9"/>
<line x1="136.16" y1="115.40" x2="138.36" y2="115.40" stroke="#3c3c3c" stroke-width="0.9"/>
<line x1="143.70" y1="111.00" x2="143.70" y2="115.50" stroke="#3c3c3c" stroke-width="0.9"/>
<line x1="142.60" y1="115.50" x2="144.80" y2="115.50" stroke="#3c3c3c" stroke-width="0.9"/>
<line x1="150.14" y1="111.30" x2="150.14" y2="115.80" stroke="#3c3c3c" stroke-width="0.9"/>
<line x1="149.04" y1="115.80" x2="151.24" y2="115.80" stroke="#3c3c3c" stroke-width="0.9"/>
<line x1="156.57" y1="111.50" x2="156.57" y2="116.00" stroke="#3c3c3c" stroke-width="0.9"/>
<line x1="155.47" y1="116.00" x2="157.67" y2="116.00" stroke="#3c3c3c" stroke-width="0.9"/>
<line x1="163.01" y1="111.80" x2="163.01" y2="116.30" stroke="#3c3c3c" stroke-width="0.9"/>
<line x1="161.91" y1="116.30" x2="164.11" y2="116.30" stroke="#3c3c3c" stroke-width="0.9"/>
<line x1="169.45" y1="112.00" x2="169.45" y2="116.50" stroke="#3c3c3c" stroke-width="0.9"/>
<line x1="168.35" y1="116.50" x2="170.55" y2="116.50" stroke="#3c3c3c" stroke-width="0.9"/>
<line x1="175.89" y1="112.30" x2="175.89" y2="116.80" stroke="#3c3c3c" stroke-width="0.9"/>
<line x1="174.79" y1="116.80" x2="176.99" y2="116.80" stroke="#3c3c3c" stroke-width="0.9"/>
<line x1="182.32" y1="112.70" x2="182.32" y2="117.20" stroke="#3c3c3c" stroke-width="0.9"/>
<line x1="181.22" y1="117.20" x2="183.42" y2="117.20" stroke="#3c3c3c" stroke-width="0.9"/>
<line x1="188.76" y1="113.30" x2="188.76" y2="117.80" stroke="#3c3c3c" stroke-width="0.9"/>
<line x1="187.66" y1="117.80" x2="189.86" y2="117.80" stroke="#3c3c3c" stroke-width="0.9"/>
<line x1="195.20" y1="111.80" x2="195.20" y2="116.30" stroke="#3c3c3c" stroke-width="0.9"/>
<line x1="194.10" y1="116.30" x2="196.30" y2="116.30" stroke="#3c3c3c" stroke-width="0.9"/>
<path d="M40.70 110.70L47.14 111.70L53.58 112.20L60.01 113.20L66.45 110.70L72.89 112.50L79.33 111.00L85.76 113.60L92.20 111.00L98.64 111.00L105.08 110.70L111.51 110.70L117.95 110.70L124.39 110.70L130.82 110.70L137.26 110.90L143.70 111.00L150.14 111.30L156.57 111.50L163.01 111.80L169.45 112.00L175.89 112.30L182.32 112.70L188.76 113.30L195.20 111.80" fill="none" stroke="#000" stroke-width="0.9"/>
<circle cx="40.70" cy="110.70" r="1.15" fill="#ccc" stroke="#000" stroke-width="0.7"/>
<circle cx="47.14" cy="111.70" r="1.15" fill="#ccc" stroke="#000" stroke-width="0.7"/>
<circle cx="53.58" cy="112.20" r="1.15" fill="#ccc" stroke="#000" stroke-width="0.7"/>
<circle cx="60.01" cy="113.20" r="1.15" fill="#ccc" stroke="#000" stroke-width="0.7"/>
<circle cx="66.45" cy="110.70" r="1.15" fill="#ccc" stroke="#000" stroke-width="0.7"/>
<circle cx="72.89" cy="112.50" r="1.15" fill="#ccc" stroke="#000" stroke-width="0.7"/>
<circle cx="79.33" cy="111.00" r="1.15" fill="#ccc" stroke="#000" stroke-width="0.7"/>
<circle cx="85.76" cy="113.60" r="1.15" fill="#ccc" stroke="#000" stroke-width="0.7"/>
<circle cx="92.20" cy="111.00" r="1.15" fill="#ccc" stroke="#000" stroke-width="0.7"/>
<circle cx="98.64" cy="111.00" r="1.15" fill="#ccc" stroke="#000" stroke-width="0.7"/>
<circle cx="105.08" cy="110.70" r="1.15" fill="#ccc" stroke="#000" stroke-width="0.7"/>
<circle cx="111.51" cy="110.70" r="1.15" fill="#ccc" stroke="#000" stroke-width="0.7"/>
<circle cx="117.95" cy="110.70" r="1.15" fill="#ccc" stroke="#000" stroke-width="0.7"/>
<circle cx="124.39" cy="110.70" r="1.15" fill="#ccc" stroke="#000" stroke-width="0.7"/>
<circle cx="130.82" cy="110.70" r="1.15" fill="#ccc" stroke="#000" stroke-width="0.7"/>
<circle cx="137.26" cy="110.90" r="1.15" fill="#ccc" stroke="#000" stroke-width="0.7"/>
<circle cx="143.70" cy="111.00" r="1.15" fill="#ccc" stroke="#000" stroke-width="0.7"/>
<circle cx="150.14" cy="111.30" r="1.15" fill="#ccc" stroke="#000" stroke-width="0.7"/>
<circle cx="156.57" cy="111.50" r="1.15" fill="#ccc" stroke="#000" stroke-width="0.7"/>
<circle cx="163.01" cy="111.80" r="1.15" fill="#ccc" stroke="#000" stroke-width="0.7"/>
<circle cx="169.45" cy="112.00" r="1.15" fill="#ccc" stroke="#000" stroke-width="0.7"/>
<circle cx="175.89" cy="112.30" r="1.15" fill="#ccc" stroke="#000" stroke-width="0.7"/>
<circle cx="182.32" cy="112.70" r="1.15" fill="#ccc" stroke="#000" stroke-width="0.7"/>
<circle cx="188.76" cy="113.30" r="1.15" fill="#ccc" stroke="#000" stroke-width="0.7"/>
<circle cx="195.20" cy="111.80" r="1.15" fill="#ccc" stroke="#000" stroke-width="0.7"/>
<path d="M40.70 111.00L47.14 111.00L53.58 107.00L60.01 101.60L66.45 99.40L72.89 99.40L79.33 99.40L85.76 99.00L92.20 98.60L98.64 98.20L105.08 100.00L111.51 102.50L117.95 102.50L124.39 102.50L130.82 105.40L137.26 105.80L143.70 106.90L150.14 108.70L156.57 108.70L163.01 108.70L169.45 108.20L175.89 108.70L182.32 108.70L188.76 108.70L195.20 110.50" fill="none" stroke="#000" stroke-width="0.9"/>
<rect x="39.55" y="109.85" width="2.30" height="2.30" fill="#ccc" stroke="#000" stroke-width="0.7"/>
<rect x="45.99" y="109.85" width="2.30" height="2.30" fill="#ccc" stroke="#000" stroke-width="0.7"/>
<rect x="52.43" y="105.85" width="2.30" height="2.30" fill="#ccc" stroke="#000" stroke-width="0.7"/>
<rect x="58.86" y="100.45" width="2.30" height="2.30" fill="#ccc" stroke="#000" stroke-width="0.7"/>
<rect x="65.30" y="98.25" width="2.30" height="2.30" fill="#ccc" stroke="#000" stroke-width="0.7"/>
<rect x="71.74" y="98.25" width="2.30" height="2.30" fill="#ccc" stroke="#000" stroke-width="0.7"/>
<rect x="78.17" y="98.25" width="2.30" height="2.30" fill="#ccc" stroke="#000" stroke-width="0.7"/>
<rect x="84.61" y="97.85" width="2.30" height="2.30" fill="#ccc" stroke="#000" stroke-width="0.7"/>
<rect x="91.05" y="97.45" width="2.30" height="2.30" fill="#ccc" stroke="#000" stroke-width="0.7"/>
<rect x="97.49" y="97.05" width="2.30" height="2.30" fill="#ccc" stroke="#000" stroke-width="0.7"/>
<rect x="103.92" y="98.85" width="2.30" height="2.30" fill="#ccc" stroke="#000" stroke-width="0.7"/>
<rect x="110.36" y="101.35" width="2.30" height="2.30" fill="#ccc" stroke="#000" stroke-width="0.7"/>
<rect x="116.80" y="101.35" width="2.30" height="2.30" fill="#ccc" stroke="#000" stroke-width="0.7"/>
<rect x="123.24" y="101.35" width="2.30" height="2.30" fill="#ccc" stroke="#000" stroke-width="0.7"/>
<rect x="129.67" y="104.25" width="2.30" height="2.30" fill="#ccc" stroke="#000" stroke-width="0.7"/>
<rect x="136.11" y="104.65" width="2.30" height="2.30" fill="#ccc" stroke="#000" stroke-width="0.7"/>
<rect x="142.55" y="105.75" width="2.30" height="2.30" fill="#ccc" stroke="#000" stroke-width="0.7"/>
<rect x="148.99" y="107.55" width="2.30" height="2.30" fill="#ccc" stroke="#000" stroke-width="0.7"/>
<rect x="155.42" y="107.55" width="2.30" height="2.30" fill="#ccc" stroke="#000" stroke-width="0.7"/>
<rect x="161.86" y="107.55" width="2.30" height="2.30" fill="#ccc" stroke="#000" stroke-width="0.7"/>
<rect x="168.30" y="107.05" width="2.30" height="2.30" fill="#ccc" stroke="#000" stroke-width="0.7"/>
<rect x="174.74" y="107.55" width="2.30" height="2.30" fill="#ccc" stroke="#000" stroke-width="0.7"/>
<rect x="181.17" y="107.55" width="2.30" height="2.30" fill="#ccc" stroke="#000" stroke-width="0.7"/>
<rect x="187.61" y="107.55" width="2.30" height="2.30" fill="#ccc" stroke="#000" stroke-width="0.7"/>
<rect x="194.05" y="109.35" width="2.30" height="2.30" fill="#ccc" stroke="#000" stroke-width="0.7"/>
<path d="M40.70 111.00L47.14 107.00L53.58 100.00L60.01 87.40L66.45 84.60L72.89 80.60L79.33 74.60L85.76 76.00L92.20 83.40L98.64 84.60L105.08 89.00L111.51 97.10L117.95 96.60L124.39 96.60L130.82 98.20L137.26 104.00L143.70 105.40L150.14 108.40L156.57 110.20L163.01 111.00L169.45 112.40L175.89 113.50L182.32 116.80L188.76 115.50L195.20 118.70" fill="none" stroke="#000" stroke-width="0.9"/>
<rect x="39.20" y="109.50" width="3.0" height="3.0" fill="#000"/>
<rect x="45.64" y="105.50" width="3.0" height="3.0" fill="#000"/>
<rect x="52.08" y="98.50" width="3.0" height="3.0" fill="#000"/>
<rect x="58.51" y="85.90" width="3.0" height="3.0" fill="#000"/>
<rect x="64.95" y="83.10" width="3.0" height="3.0" fill="#000"/>
<rect x="71.39" y="79.10" width="3.0" height="3.0" fill="#000"/>
<rect x="77.83" y="73.10" width="3.0" height="3.0" fill="#000"/>
<rect x="84.26" y="74.50" width="3.0" height="3.0" fill="#000"/>
<rect x="90.70" y="81.90" width="3.0" height="3.0" fill="#000"/>
<rect x="97.14" y="83.10" width="3.0" height="3.0" fill="#000"/>
<rect x="103.58" y="87.50" width="3.0" height="3.0" fill="#000"/>
<rect x="110.01" y="95.60" width="3.0" height="3.0" fill="#000"/>
<rect x="116.45" y="95.10" width="3.0" height="3.0" fill="#000"/>
<rect x="122.89" y="95.10" width="3.0" height="3.0" fill="#000"/>
<rect x="129.32" y="96.70" width="3.0" height="3.0" fill="#000"/>
<rect x="135.76" y="102.50" width="3.0" height="3.0" fill="#000"/>
<rect x="142.20" y="103.90" width="3.0" height="3.0" fill="#000"/>
<rect x="148.64" y="106.90" width="3.0" height="3.0" fill="#000"/>
<rect x="155.07" y="108.70" width="3.0" height="3.0" fill="#000"/>
<rect x="161.51" y="109.50" width="3.0" height="3.0" fill="#000"/>
<rect x="167.95" y="110.90" width="3.0" height="3.0" fill="#000"/>
<rect x="174.39" y="112.00" width="3.0" height="3.0" fill="#000"/>
<rect x="180.82" y="115.30" width="3.0" height="3.0" fill="#000"/>
<rect x="187.26" y="114.00" width="3.0" height="3.0" fill="#000"/>
<rect x="193.70" y="117.20" width="3.0" height="3.0" fill="#000"/>
<line x1="40.70" y1="111.00" x2="40.70" y2="106.00" stroke="#3c3c3c" stroke-width="0.9"/>
<line x1="39.60" y1="106.00" x2="41.80" y2="106.00" stroke="#3c3c3c" stroke-width="0.9"/>
<line x1="47.14" y1="107.00" x2="47.14" y2="99.00" stroke="#3c3c3c" stroke-width="0.9"/>
<line x1="46.04" y1="99.00" x2="48.24" y2="99.00" stroke="#3c3c3c" stroke-width="0.9"/>
<line x1="53.58" y1="99.40" x2="53.58" y2="90.00" stroke="#3c3c3c" stroke-width="0.9"/>
<line x1="52.48" y1="90.00" x2="54.68" y2="90.00" stroke="#3c3c3c" stroke-width="0.9"/>
<line x1="60.01" y1="88.60" x2="60.01" y2="78.60" stroke="#3c3c3c" stroke-width="0.9"/>
<line x1="58.91" y1="78.60" x2="61.11" y2="78.60" stroke="#3c3c3c" stroke-width="0.9"/>
<line x1="66.45" y1="83.00" x2="66.45" y2="68.00" stroke="#3c3c3c" stroke-width="0.9"/>
<line x1="65.35" y1="68.00" x2="67.55" y2="68.00" stroke="#3c3c3c" stroke-width="0.9"/>
<line x1="72.89" y1="74.00" x2="72.89" y2="61.00" stroke="#3c3c3c" stroke-width="0.9"/>
<line x1="71.79" y1="61.00" x2="73.99" y2="61.00" stroke="#3c3c3c" stroke-width="0.9"/>
<line x1="79.33" y1="70.60" x2="79.33" y2="55.00" stroke="#3c3c3c" stroke-width="0.9"/>
<line x1="78.23" y1="55.00" x2="80.42" y2="55.00" stroke="#3c3c3c" stroke-width="0.9"/>
<line x1="85.76" y1="67.40" x2="85.76" y2="50.00" stroke="#3c3c3c" stroke-width="0.9"/>
<line x1="84.66" y1="50.00" x2="86.86" y2="50.00" stroke="#3c3c3c" stroke-width="0.9"/>
<line x1="92.20" y1="68.60" x2="92.20" y2="50.00" stroke="#3c3c3c" stroke-width="0.9"/>
<line x1="91.10" y1="50.00" x2="93.30" y2="50.00" stroke="#3c3c3c" stroke-width="0.9"/>
<line x1="98.64" y1="66.00" x2="98.64" y2="45.00" stroke="#3c3c3c" stroke-width="0.9"/>
<line x1="97.54" y1="45.00" x2="99.74" y2="45.00" stroke="#3c3c3c" stroke-width="0.9"/>
<line x1="105.08" y1="68.00" x2="105.08" y2="47.40" stroke="#3c3c3c" stroke-width="0.9"/>
<line x1="103.98" y1="47.40" x2="106.17" y2="47.40" stroke="#3c3c3c" stroke-width="0.9"/>
<line x1="111.51" y1="70.90" x2="111.51" y2="46.80" stroke="#3c3c3c" stroke-width="0.9"/>
<line x1="110.41" y1="46.80" x2="112.61" y2="46.80" stroke="#3c3c3c" stroke-width="0.9"/>
<line x1="117.95" y1="77.90" x2="117.95" y2="48.60" stroke="#3c3c3c" stroke-width="0.9"/>
<line x1="116.85" y1="48.60" x2="119.05" y2="48.60" stroke="#3c3c3c" stroke-width="0.9"/>
<line x1="124.39" y1="82.20" x2="124.39" y2="55.60" stroke="#3c3c3c" stroke-width="0.9"/>
<line x1="123.29" y1="55.60" x2="125.49" y2="55.60" stroke="#3c3c3c" stroke-width="0.9"/>
<line x1="130.82" y1="87.70" x2="130.82" y2="65.40" stroke="#3c3c3c" stroke-width="0.9"/>
<line x1="129.72" y1="65.40" x2="131.92" y2="65.40" stroke="#3c3c3c" stroke-width="0.9"/>
<line x1="137.26" y1="90.50" x2="137.26" y2="64.30" stroke="#3c3c3c" stroke-width="0.9"/>
<line x1="136.16" y1="64.30" x2="138.36" y2="64.30" stroke="#3c3c3c" stroke-width="0.9"/>
<line x1="143.70" y1="93.20" x2="143.70" y2="69.10" stroke="#3c3c3c" stroke-width="0.9"/>
<line x1="142.60" y1="69.10" x2="144.80" y2="69.10" stroke="#3c3c3c" stroke-width="0.9"/>
<line x1="150.14" y1="97.50" x2="150.14" y2="70.90" stroke="#3c3c3c" stroke-width="0.9"/>
<line x1="149.04" y1="70.90" x2="151.24" y2="70.90" stroke="#3c3c3c" stroke-width="0.9"/>
<line x1="156.57" y1="99.70" x2="156.57" y2="73.50" stroke="#3c3c3c" stroke-width="0.9"/>
<line x1="155.47" y1="73.50" x2="157.67" y2="73.50" stroke="#3c3c3c" stroke-width="0.9"/>
<line x1="163.01" y1="93.80" x2="163.01" y2="70.20" stroke="#3c3c3c" stroke-width="0.9"/>
<line x1="161.91" y1="70.20" x2="164.11" y2="70.20" stroke="#3c3c3c" stroke-width="0.9"/>
<line x1="169.45" y1="96.40" x2="169.45" y2="75.20" stroke="#3c3c3c" stroke-width="0.9"/>
<line x1="168.35" y1="75.20" x2="170.55" y2="75.20" stroke="#3c3c3c" stroke-width="0.9"/>
<line x1="175.89" y1="99.90" x2="175.89" y2="81.10" stroke="#3c3c3c" stroke-width="0.9"/>
<line x1="174.79" y1="81.10" x2="176.99" y2="81.10" stroke="#3c3c3c" stroke-width="0.9"/>
<line x1="182.32" y1="102.50" x2="182.32" y2="83.50" stroke="#3c3c3c" stroke-width="0.9"/>
<line x1="181.22" y1="83.50" x2="183.42" y2="83.50" stroke="#3c3c3c" stroke-width="0.9"/>
<line x1="188.76" y1="105.40" x2="188.76" y2="88.30" stroke="#3c3c3c" stroke-width="0.9"/>
<line x1="187.66" y1="88.30" x2="189.86" y2="88.30" stroke="#3c3c3c" stroke-width="0.9"/>
<line x1="195.20" y1="111.30" x2="195.20" y2="96.00" stroke="#3c3c3c" stroke-width="0.9"/>
<line x1="194.10" y1="96.00" x2="196.30" y2="96.00" stroke="#3c3c3c" stroke-width="0.9"/>
<path d="M40.70 111.00L47.14 107.00L53.58 99.40L60.01 88.60L66.45 83.00L72.89 74.00L79.33 70.60L85.76 67.40L92.20 68.60L98.64 66.00L105.08 68.00L111.51 70.90L117.95 77.90L124.39 82.20L130.82 87.70L137.26 90.50L143.70 93.20L150.14 97.50L156.57 99.70L163.01 93.80L169.45 96.40L175.89 99.90L182.32 102.50L188.76 105.40L195.20 111.30" fill="none" stroke="#000" stroke-width="0.9"/>
<rect x="39.20" y="109.50" width="3.0" height="3.0" fill="#000"/>
<rect x="45.64" y="105.50" width="3.0" height="3.0" fill="#000"/>
<rect x="52.08" y="97.90" width="3.0" height="3.0" fill="#000"/>
<rect x="58.51" y="87.10" width="3.0" height="3.0" fill="#000"/>
<rect x="64.95" y="81.50" width="3.0" height="3.0" fill="#000"/>
<rect x="71.39" y="72.50" width="3.0" height="3.0" fill="#000"/>
<rect x="77.83" y="69.10" width="3.0" height="3.0" fill="#000"/>
<rect x="84.26" y="65.90" width="3.0" height="3.0" fill="#000"/>
<rect x="90.70" y="67.10" width="3.0" height="3.0" fill="#000"/>
<rect x="97.14" y="64.50" width="3.0" height="3.0" fill="#000"/>
<rect x="103.58" y="66.50" width="3.0" height="3.0" fill="#000"/>
<rect x="110.01" y="69.40" width="3.0" height="3.0" fill="#000"/>
<rect x="116.45" y="76.40" width="3.0" height="3.0" fill="#000"/>
<rect x="122.89" y="80.70" width="3.0" height="3.0" fill="#000"/>
<rect x="129.32" y="86.20" width="3.0" height="3.0" fill="#000"/>
<rect x="135.76" y="89.00" width="3.0" height="3.0" fill="#000"/>
<rect x="142.20" y="91.70" width="3.0" height="3.0" fill="#000"/>
<rect x="148.64" y="96.00" width="3.0" height="3.0" fill="#000"/>
<rect x="155.07" y="98.20" width="3.0" height="3.0" fill="#000"/>
<rect x="161.51" y="92.30" width="3.0" height="3.0" fill="#000"/>
<rect x="167.95" y="94.90" width="3.0" height="3.0" fill="#000"/>
<rect x="174.39" y="98.40" width="3.0" height="3.0" fill="#000"/>
<rect x="180.82" y="101.00" width="3.0" height="3.0" fill="#000"/>
<rect x="187.26" y="103.90" width="3.0" height="3.0" fill="#000"/>
<rect x="193.70" y="109.80" width="3.0" height="3.0" fill="#000"/>
<line x1="248.40" y1="113.50" x2="248.40" y2="117.50" stroke="#3c3c3c" stroke-width="0.9"/>
<line x1="247.30" y1="117.50" x2="249.50" y2="117.50" stroke="#3c3c3c" stroke-width="0.9"/>
<line x1="254.81" y1="113.90" x2="254.81" y2="117.90" stroke="#3c3c3c" stroke-width="0.9"/>
<line x1="253.71" y1="117.90" x2="255.91" y2="117.90" stroke="#3c3c3c" stroke-width="0.9"/>
<line x1="261.23" y1="113.90" x2="261.23" y2="117.90" stroke="#3c3c3c" stroke-width="0.9"/>
<line x1="260.12" y1="117.90" x2="262.33" y2="117.90" stroke="#3c3c3c" stroke-width="0.9"/>
<line x1="267.64" y1="114.00" x2="267.64" y2="118.00" stroke="#3c3c3c" stroke-width="0.9"/>
<line x1="266.54" y1="118.00" x2="268.74" y2="118.00" stroke="#3c3c3c" stroke-width="0.9"/>
<line x1="274.05" y1="114.00" x2="274.05" y2="118.00" stroke="#3c3c3c" stroke-width="0.9"/>
<line x1="272.95" y1="118.00" x2="275.15" y2="118.00" stroke="#3c3c3c" stroke-width="0.9"/>
<line x1="280.46" y1="114.00" x2="280.46" y2="118.00" stroke="#3c3c3c" stroke-width="0.9"/>
<line x1="279.36" y1="118.00" x2="281.56" y2="118.00" stroke="#3c3c3c" stroke-width="0.9"/>
<line x1="286.88" y1="115.00" x2="286.88" y2="119.00" stroke="#3c3c3c" stroke-width="0.9"/>
<line x1="285.77" y1="119.00" x2="287.98" y2="119.00" stroke="#3c3c3c" stroke-width="0.9"/>
<line x1="293.29" y1="115.90" x2="293.29" y2="119.90" stroke="#3c3c3c" stroke-width="0.9"/>
<line x1="292.19" y1="119.90" x2="294.39" y2="119.90" stroke="#3c3c3c" stroke-width="0.9"/>
<line x1="299.70" y1="115.00" x2="299.70" y2="119.00" stroke="#3c3c3c" stroke-width="0.9"/>
<line x1="298.60" y1="119.00" x2="300.80" y2="119.00" stroke="#3c3c3c" stroke-width="0.9"/>
<line x1="306.11" y1="115.50" x2="306.11" y2="119.50" stroke="#3c3c3c" stroke-width="0.9"/>
<line x1="305.01" y1="119.50" x2="307.21" y2="119.50" stroke="#3c3c3c" stroke-width="0.9"/>
<line x1="312.52" y1="116.20" x2="312.52" y2="120.20" stroke="#3c3c3c" stroke-width="0.9"/>
<line x1="311.42" y1="120.20" x2="313.62" y2="120.20" stroke="#3c3c3c" stroke-width="0.9"/>
<line x1="318.94" y1="116.00" x2="318.94" y2="120.00" stroke="#3c3c3c" stroke-width="0.9"/>
<line x1="317.84" y1="120.00" x2="320.04" y2="120.00" stroke="#3c3c3c" stroke-width="0.9"/>
<line x1="325.35" y1="115.90" x2="325.35" y2="119.90" stroke="#3c3c3c" stroke-width="0.9"/>
<line x1="324.25" y1="119.90" x2="326.45" y2="119.90" stroke="#3c3c3c" stroke-width="0.9"/>
<line x1="331.76" y1="116.00" x2="331.76" y2="120.00" stroke="#3c3c3c" stroke-width="0.9"/>
<line x1="330.66" y1="120.00" x2="332.86" y2="120.00" stroke="#3c3c3c" stroke-width="0.9"/>
<line x1="338.18" y1="116.00" x2="338.18" y2="120.00" stroke="#3c3c3c" stroke-width="0.9"/>
<line x1="337.07" y1="120.00" x2="339.28" y2="120.00" stroke="#3c3c3c" stroke-width="0.9"/>
<line x1="344.59" y1="116.00" x2="344.59" y2="120.00" stroke="#3c3c3c" stroke-width="0.9"/>
<line x1="343.49" y1="120.00" x2="345.69" y2="120.00" stroke="#3c3c3c" stroke-width="0.9"/>
<line x1="351.00" y1="116.00" x2="351.00" y2="120.00" stroke="#3c3c3c" stroke-width="0.9"/>
<line x1="349.90" y1="120.00" x2="352.10" y2="120.00" stroke="#3c3c3c" stroke-width="0.9"/>
<line x1="357.41" y1="116.00" x2="357.41" y2="120.00" stroke="#3c3c3c" stroke-width="0.9"/>
<line x1="356.31" y1="120.00" x2="358.51" y2="120.00" stroke="#3c3c3c" stroke-width="0.9"/>
<line x1="363.82" y1="116.20" x2="363.82" y2="120.20" stroke="#3c3c3c" stroke-width="0.9"/>
<line x1="362.72" y1="120.20" x2="364.93" y2="120.20" stroke="#3c3c3c" stroke-width="0.9"/>
<line x1="370.24" y1="116.00" x2="370.24" y2="120.00" stroke="#3c3c3c" stroke-width="0.9"/>
<line x1="369.14" y1="120.00" x2="371.34" y2="120.00" stroke="#3c3c3c" stroke-width="0.9"/>
<line x1="376.65" y1="116.20" x2="376.65" y2="120.20" stroke="#3c3c3c" stroke-width="0.9"/>
<line x1="375.55" y1="120.20" x2="377.75" y2="120.20" stroke="#3c3c3c" stroke-width="0.9"/>
<line x1="383.06" y1="116.00" x2="383.06" y2="120.00" stroke="#3c3c3c" stroke-width="0.9"/>
<line x1="381.96" y1="120.00" x2="384.16" y2="120.00" stroke="#3c3c3c" stroke-width="0.9"/>
<line x1="389.48" y1="116.20" x2="389.48" y2="120.20" stroke="#3c3c3c" stroke-width="0.9"/>
<line x1="388.38" y1="120.20" x2="390.58" y2="120.20" stroke="#3c3c3c" stroke-width="0.9"/>
<line x1="395.89" y1="116.00" x2="395.89" y2="120.00" stroke="#3c3c3c" stroke-width="0.9"/>
<line x1="394.79" y1="120.00" x2="396.99" y2="120.00" stroke="#3c3c3c" stroke-width="0.9"/>
<line x1="402.30" y1="115.80" x2="402.30" y2="119.80" stroke="#3c3c3c" stroke-width="0.9"/>
<line x1="401.20" y1="119.80" x2="403.40" y2="119.80" stroke="#3c3c3c" stroke-width="0.9"/>
<path d="M248.40 113.50L254.81 113.90L261.23 113.90L267.64 114.00L274.05 114.00L280.46 114.00L286.88 115.00L293.29 115.90L299.70 115.00L306.11 115.50L312.52 116.20L318.94 116.00L325.35 115.90L331.76 116.00L338.18 116.00L344.59 116.00L351.00 116.00L357.41 116.00L363.82 116.20L370.24 116.00L376.65 116.20L383.06 116.00L389.48 116.20L395.89 116.00L402.30 115.80" fill="none" stroke="#000" stroke-width="0.9"/>
<circle cx="248.40" cy="113.50" r="1.15" fill="#ccc" stroke="#000" stroke-width="0.7"/>
<circle cx="254.81" cy="113.90" r="1.15" fill="#ccc" stroke="#000" stroke-width="0.7"/>
<circle cx="261.23" cy="113.90" r="1.15" fill="#ccc" stroke="#000" stroke-width="0.7"/>
<circle cx="267.64" cy="114.00" r="1.15" fill="#ccc" stroke="#000" stroke-width="0.7"/>
<circle cx="274.05" cy="114.00" r="1.15" fill="#ccc" stroke="#000" stroke-width="0.7"/>
<circle cx="280.46" cy="114.00" r="1.15" fill="#ccc" stroke="#000" stroke-width="0.7"/>
<circle cx="286.88" cy="115.00" r="1.15" fill="#ccc" stroke="#000" stroke-width="0.7"/>
<circle cx="293.29" cy="115.90" r="1.15" fill="#ccc" stroke="#000" stroke-width="0.7"/>
<circle cx="299.70" cy="115.00" r="1.15" fill="#ccc" stroke="#000" stroke-width="0.7"/>
<circle cx="306.11" cy="115.50" r="1.15" fill="#ccc" stroke="#000" stroke-width="0.7"/>
<circle cx="312.52" cy="116.20" r="1.15" fill="#ccc" stroke="#000" stroke-width="0.7"/>
<circle cx="318.94" cy="116.00" r="1.15" fill="#ccc" stroke="#000" stroke-width="0.7"/>
<circle cx="325.35" cy="115.90" r="1.15" fill="#ccc" stroke="#000" stroke-width="0.7"/>
<circle cx="331.76" cy="116.00" r="1.15" fill="#ccc" stroke="#000" stroke-width="0.7"/>
<circle cx="338.18" cy="116.00" r="1.15" fill="#ccc" stroke="#000" stroke-width="0.7"/>
<circle cx="344.59" cy="116.00" r="1.15" fill="#ccc" stroke="#000" stroke-width="0.7"/>
<circle cx="351.00" cy="116.00" r="1.15" fill="#ccc" stroke="#000" stroke-width="0.7"/>
<circle cx="357.41" cy="116.00" r="1.15" fill="#ccc" stroke="#000" stroke-width="0.7"/>
<circle cx="363.82" cy="116.20" r="1.15" fill="#ccc" stroke="#000" stroke-width="0.7"/>
<circle cx="370.24" cy="116.00" r="1.15" fill="#ccc" stroke="#000" stroke-width="0.7"/>
<circle cx="376.65" cy="116.20" r="1.15" fill="#ccc" stroke="#000" stroke-width="0.7"/>
<circle cx="383.06" cy="116.00" r="1.15" fill="#ccc" stroke="#000" stroke-width="0.7"/>
<circle cx="389.48" cy="116.20" r="1.15" fill="#ccc" stroke="#000" stroke-width="0.7"/>
<circle cx="395.89" cy="116.00" r="1.15" fill="#ccc" stroke="#000" stroke-width="0.7"/>
<circle cx="402.30" cy="115.80" r="1.15" fill="#ccc" stroke="#000" stroke-width="0.7"/>
<path d="M248.40 111.00L254.81 113.60L261.23 113.60L267.64 113.40L274.05 113.30L280.46 112.60L286.88 110.40L293.29 107.50L299.70 106.00L306.11 103.80L312.52 102.70L318.94 102.70L325.35 100.90L331.76 99.90L338.18 101.50L344.59 101.00L351.00 101.00L357.41 101.50L363.82 101.00L370.24 101.50L376.65 101.50L383.06 101.90L389.48 104.00L395.89 104.60L402.30 106.70" fill="none" stroke="#000" stroke-width="0.9"/>
<circle cx="248.40" cy="111.00" r="1.50" fill="#000"/>
<circle cx="254.81" cy="113.60" r="1.50" fill="#000"/>
<circle cx="261.23" cy="113.60" r="1.50" fill="#000"/>
<circle cx="267.64" cy="113.40" r="1.50" fill="#000"/>
<circle cx="274.05" cy="113.30" r="1.50" fill="#000"/>
<circle cx="280.46" cy="112.60" r="1.50" fill="#000"/>
<circle cx="286.88" cy="110.40" r="1.50" fill="#000"/>
<circle cx="293.29" cy="107.50" r="1.50" fill="#000"/>
<circle cx="299.70" cy="106.00" r="1.50" fill="#000"/>
<circle cx="306.11" cy="103.80" r="1.50" fill="#000"/>
<circle cx="312.52" cy="102.70" r="1.50" fill="#000"/>
<circle cx="318.94" cy="102.70" r="1.50" fill="#000"/>
<circle cx="325.35" cy="100.90" r="1.50" fill="#000"/>
<circle cx="331.76" cy="99.90" r="1.50" fill="#000"/>
<circle cx="338.18" cy="101.50" r="1.50" fill="#000"/>
<circle cx="344.59" cy="101.00" r="1.50" fill="#000"/>
<circle cx="351.00" cy="101.00" r="1.50" fill="#000"/>
<circle cx="357.41" cy="101.50" r="1.50" fill="#000"/>
<circle cx="363.82" cy="101.00" r="1.50" fill="#000"/>
<circle cx="370.24" cy="101.50" r="1.50" fill="#000"/>
<circle cx="376.65" cy="101.50" r="1.50" fill="#000"/>
<circle cx="383.06" cy="101.90" r="1.50" fill="#000"/>
<circle cx="389.48" cy="104.00" r="1.50" fill="#000"/>
<circle cx="395.89" cy="104.60" r="1.50" fill="#000"/>
<circle cx="402.30" cy="106.70" r="1.50" fill="#000"/>
<line x1="248.40" y1="109.00" x2="248.40" y2="106.00" stroke="#3c3c3c" stroke-width="0.9"/>
<line x1="247.30" y1="106.00" x2="249.50" y2="106.00" stroke="#3c3c3c" stroke-width="0.9"/>
<line x1="254.81" y1="113.60" x2="254.81" y2="110.00" stroke="#3c3c3c" stroke-width="0.9"/>
<line x1="253.71" y1="110.00" x2="255.91" y2="110.00" stroke="#3c3c3c" stroke-width="0.9"/>
<line x1="261.23" y1="110.50" x2="261.23" y2="108.00" stroke="#3c3c3c" stroke-width="0.9"/>
<line x1="260.12" y1="108.00" x2="262.33" y2="108.00" stroke="#3c3c3c" stroke-width="0.9"/>
<line x1="267.64" y1="106.00" x2="267.64" y2="99.40" stroke="#3c3c3c" stroke-width="0.9"/>
<line x1="266.54" y1="99.40" x2="268.74" y2="99.40" stroke="#3c3c3c" stroke-width="0.9"/>
<line x1="274.05" y1="96.80" x2="274.05" y2="86.00" stroke="#3c3c3c" stroke-width="0.9"/>
<line x1="272.95" y1="86.00" x2="275.15" y2="86.00" stroke="#3c3c3c" stroke-width="0.9"/>
<line x1="280.46" y1="90.80" x2="280.46" y2="78.00" stroke="#3c3c3c" stroke-width="0.9"/>
<line x1="279.36" y1="78.00" x2="281.56" y2="78.00" stroke="#3c3c3c" stroke-width="0.9"/>
<line x1="286.88" y1="82.80" x2="286.88" y2="72.60" stroke="#3c3c3c" stroke-width="0.9"/>
<line x1="285.77" y1="72.60" x2="287.98" y2="72.60" stroke="#3c3c3c" stroke-width="0.9"/>
<line x1="293.29" y1="76.80" x2="293.29" y2="53.40" stroke="#3c3c3c" stroke-width="0.9"/>
<line x1="292.19" y1="53.40" x2="294.39" y2="53.40" stroke="#3c3c3c" stroke-width="0.9"/>
<line x1="299.70" y1="75.50" x2="299.70" y2="59.00" stroke="#3c3c3c" stroke-width="0.9"/>
<line x1="298.60" y1="59.00" x2="300.80" y2="59.00" stroke="#3c3c3c" stroke-width="0.9"/>
<line x1="306.11" y1="70.40" x2="306.11" y2="56.00" stroke="#3c3c3c" stroke-width="0.9"/>
<line x1="305.01" y1="56.00" x2="307.21" y2="56.00" stroke="#3c3c3c" stroke-width="0.9"/>
<line x1="312.52" y1="71.00" x2="312.52" y2="52.00" stroke="#3c3c3c" stroke-width="0.9"/>
<line x1="311.42" y1="52.00" x2="313.62" y2="52.00" stroke="#3c3c3c" stroke-width="0.9"/>
<line x1="318.94" y1="72.60" x2="318.94" y2="57.30" stroke="#3c3c3c" stroke-width="0.9"/>
<line x1="317.84" y1="57.30" x2="320.04" y2="57.30" stroke="#3c3c3c" stroke-width="0.9"/>
<line x1="325.35" y1="72.00" x2="325.35" y2="55.10" stroke="#3c3c3c" stroke-width="0.9"/>
<line x1="324.25" y1="55.10" x2="326.45" y2="55.10" stroke="#3c3c3c" stroke-width="0.9"/>
<line x1="331.76" y1="70.40" x2="331.76" y2="53.00" stroke="#3c3c3c" stroke-width="0.9"/>
<line x1="330.66" y1="53.00" x2="332.86" y2="53.00" stroke="#3c3c3c" stroke-width="0.9"/>
<line x1="338.18" y1="66.50" x2="338.18" y2="40.30" stroke="#3c3c3c" stroke-width="0.9"/>
<line x1="337.07" y1="40.30" x2="339.28" y2="40.30" stroke="#3c3c3c" stroke-width="0.9"/>
<line x1="344.59" y1="70.90" x2="344.59" y2="46.80" stroke="#3c3c3c" stroke-width="0.9"/>
<line x1="343.49" y1="46.80" x2="345.69" y2="46.80" stroke="#3c3c3c" stroke-width="0.9"/>
<line x1="351.00" y1="73.50" x2="351.00" y2="57.30" stroke="#3c3c3c" stroke-width="0.9"/>
<line x1="349.90" y1="57.30" x2="352.10" y2="57.30" stroke="#3c3c3c" stroke-width="0.9"/>
<line x1="357.41" y1="72.00" x2="357.41" y2="50.80" stroke="#3c3c3c" stroke-width="0.9"/>
<line x1="356.31" y1="50.80" x2="358.51" y2="50.80" stroke="#3c3c3c" stroke-width="0.9"/>
<line x1="363.82" y1="75.70" x2="363.82" y2="59.50" stroke="#3c3c3c" stroke-width="0.9"/>
<line x1="362.72" y1="59.50" x2="364.93" y2="59.50" stroke="#3c3c3c" stroke-width="0.9"/>
<line x1="370.24" y1="74.80" x2="370.24" y2="52.70" stroke="#3c3c3c" stroke-width="0.9"/>
<line x1="369.14" y1="52.70" x2="371.34" y2="52.70" stroke="#3c3c3c" stroke-width="0.9"/>
<line x1="376.65" y1="74.80" x2="376.65" y2="54.00" stroke="#3c3c3c" stroke-width="0.9"/>
<line x1="375.55" y1="54.00" x2="377.75" y2="54.00" stroke="#3c3c3c" stroke-width="0.9"/>
<line x1="383.06" y1="73.50" x2="383.06" y2="44.20" stroke="#3c3c3c" stroke-width="0.9"/>
<line x1="381.96" y1="44.20" x2="384.16" y2="44.20" stroke="#3c3c3c" stroke-width="0.9"/>
<line x1="389.48" y1="78.50" x2="389.48" y2="58.40" stroke="#3c3c3c" stroke-width="0.9"/>
<line x1="388.38" y1="58.40" x2="390.58" y2="58.40" stroke="#3c3c3c" stroke-width="0.9"/>
<line x1="395.89" y1="77.00" x2="395.89" y2="54.00" stroke="#3c3c3c" stroke-width="0.9"/>
<line x1="394.79" y1="54.00" x2="396.99" y2="54.00" stroke="#3c3c3c" stroke-width="0.9"/>
<line x1="402.30" y1="87.30" x2="402.30" y2="73.00" stroke="#3c3c3c" stroke-width="0.9"/>
<line x1="401.20" y1="73.00" x2="403.40" y2="73.00" stroke="#3c3c3c" stroke-width="0.9"/>
<path d="M248.40 109.00L254.81 113.60L261.23 110.50L267.64 106.00L274.05 96.80L280.46 90.80L286.88 82.80L293.29 76.80L299.70 75.50L306.11 70.40L312.52 71.00L318.94 72.60L325.35 72.00L331.76 70.40L338.18 66.50L344.59 70.90L351.00 73.50L357.41 72.00L363.82 75.70L370.24 74.80L376.65 74.80L383.06 73.50L389.48 78.50L395.89 77.00L402.30 87.30" fill="none" stroke="#000" stroke-width="0.9"/>
<rect x="247.25" y="107.85" width="2.30" height="2.30" fill="#ccc" stroke="#000" stroke-width="0.7"/>
<rect x="253.66" y="112.45" width="2.30" height="2.30" fill="#ccc" stroke="#000" stroke-width="0.7"/>
<rect x="260.08" y="109.35" width="2.30" height="2.30" fill="#ccc" stroke="#000" stroke-width="0.7"/>
<rect x="266.49" y="104.85" width="2.30" height="2.30" fill="#ccc" stroke="#000" stroke-width="0.7"/>
<rect x="272.90" y="95.65" width="2.30" height="2.30" fill="#ccc" stroke="#000" stroke-width="0.7"/>
<rect x="279.31" y="89.65" width="2.30" height="2.30" fill="#ccc" stroke="#000" stroke-width="0.7"/>
<rect x="285.73" y="81.65" width="2.30" height="2.30" fill="#ccc" stroke="#000" stroke-width="0.7"/>
<rect x="292.14" y="75.65" width="2.30" height="2.30" fill="#ccc" stroke="#000" stroke-width="0.7"/>
<rect x="298.55" y="74.35" width="2.30" height="2.30" fill="#ccc" stroke="#000" stroke-width="0.7"/>
<rect x="304.96" y="69.25" width="2.30" height="2.30" fill="#ccc" stroke="#000" stroke-width="0.7"/>
<rect x="311.38" y="69.85" width="2.30" height="2.30" fill="#ccc" stroke="#000" stroke-width="0.7"/>
<rect x="317.79" y="71.45" width="2.30" height="2.30" fill="#ccc" stroke="#000" stroke-width="0.7"/>
<rect x="324.20" y="70.85" width="2.30" height="2.30" fill="#ccc" stroke="#000" stroke-width="0.7"/>
<rect x="330.61" y="69.25" width="2.30" height="2.30" fill="#ccc" stroke="#000" stroke-width="0.7"/>
<rect x="337.03" y="65.35" width="2.30" height="2.30" fill="#ccc" stroke="#000" stroke-width="0.7"/>
<rect x="343.44" y="69.75" width="2.30" height="2.30" fill="#ccc" stroke="#000" stroke-width="0.7"/>
<rect x="349.85" y="72.35" width="2.30" height="2.30" fill="#ccc" stroke="#000" stroke-width="0.7"/>
<rect x="356.26" y="70.85" width="2.30" height="2.30" fill="#ccc" stroke="#000" stroke-width="0.7"/>
<rect x="362.68" y="74.55" width="2.30" height="2.30" fill="#ccc" stroke="#000" stroke-width="0.7"/>
<rect x="369.09" y="73.65" width="2.30" height="2.30" fill="#ccc" stroke="#000" stroke-width="0.7"/>
<rect x="375.50" y="73.65" width="2.30" height="2.30" fill="#ccc" stroke="#000" stroke-width="0.7"/>
<rect x="381.91" y="72.35" width="2.30" height="2.30" fill="#ccc" stroke="#000" stroke-width="0.7"/>
<rect x="388.33" y="77.35" width="2.30" height="2.30" fill="#ccc" stroke="#000" stroke-width="0.7"/>
<rect x="394.74" y="75.85" width="2.30" height="2.30" fill="#ccc" stroke="#000" stroke-width="0.7"/>
<rect x="401.15" y="86.15" width="2.30" height="2.30" fill="#ccc" stroke="#000" stroke-width="0.7"/>
<path d="M248.40 109.00L254.81 113.60L261.23 110.50L267.64 106.00L274.05 96.80L280.46 90.80L286.88 82.80L293.29 76.80L299.70 75.50L306.11 70.40L312.52 71.00L318.94 72.60L325.35 72.00L331.76 70.40L338.18 66.50L344.59 71.30L351.00 74.10L357.41 77.40L363.82 80.70L370.24 82.20L376.65 84.40L383.06 88.30L389.48 93.20L395.89 95.30L402.30 100.40" fill="none" stroke="#000" stroke-width="0.9"/>
<circle cx="248.40" cy="109.00" r="1.50" fill="#000"/>
<circle cx="254.81" cy="113.60" r="1.50" fill="#000"/>
<circle cx="261.23" cy="110.50" r="1.50" fill="#000"/>
<circle cx="267.64" cy="106.00" r="1.50" fill="#000"/>
<circle cx="274.05" cy="96.80" r="1.50" fill="#000"/>
<circle cx="280.46" cy="90.80" r="1.50" fill="#000"/>
<circle cx="286.88" cy="82.80" r="1.50" fill="#000"/>
<circle cx="293.29" cy="76.80" r="1.50" fill="#000"/>
<circle cx="299.70" cy="75.50" r="1.50" fill="#000"/>
<circle cx="306.11" cy="70.40" r="1.50" fill="#000"/>
<circle cx="312.52" cy="71.00" r="1.50" fill="#000"/>
<circle cx="318.94" cy="72.60" r="1.50" fill="#000"/>
<circle cx="325.35" cy="72.00" r="1.50" fill="#000"/>
<circle cx="331.76" cy="70.40" r="1.50" fill="#000"/>
<circle cx="338.18" cy="66.50" r="1.50" fill="#000"/>
<circle cx="344.59" cy="71.30" r="1.50" fill="#000"/>
<circle cx="351.00" cy="74.10" r="1.50" fill="#000"/>
<circle cx="357.41" cy="77.40" r="1.50" fill="#000"/>
<circle cx="363.82" cy="80.70" r="1.50" fill="#000"/>
<circle cx="370.24" cy="82.20" r="1.50" fill="#000"/>
<circle cx="376.65" cy="84.40" r="1.50" fill="#000"/>
<circle cx="383.06" cy="88.30" r="1.50" fill="#000"/>
<circle cx="389.48" cy="93.20" r="1.50" fill="#000"/>
<circle cx="395.89" cy="95.30" r="1.50" fill="#000"/>
<circle cx="402.30" cy="100.40" r="1.50" fill="#000"/>
<line x1="35.90" y1="315.55" x2="35.90" y2="321.10" stroke="#3c3c3c" stroke-width="0.9"/>
<line x1="34.80" y1="321.10" x2="37.00" y2="321.10" stroke="#3c3c3c" stroke-width="0.9"/>
<line x1="55.14" y1="317.26" x2="55.14" y2="322.17" stroke="#3c3c3c" stroke-width="0.9"/>
<line x1="54.04" y1="322.17" x2="56.24" y2="322.17" stroke="#3c3c3c" stroke-width="0.9"/>
<line x1="74.38" y1="319.39" x2="74.38" y2="324.30" stroke="#3c3c3c" stroke-width="0.9"/>
<line x1="73.28" y1="324.30" x2="75.47" y2="324.30" stroke="#3c3c3c" stroke-width="0.9"/>
<line x1="112.85" y1="318.75" x2="112.85" y2="323.23" stroke="#3c3c3c" stroke-width="0.9"/>
<line x1="111.75" y1="323.23" x2="113.95" y2="323.23" stroke="#3c3c3c" stroke-width="0.9"/>
<line x1="189.80" y1="319.39" x2="189.80" y2="323.23" stroke="#3c3c3c" stroke-width="0.9"/>
<line x1="188.70" y1="323.23" x2="190.90" y2="323.23" stroke="#3c3c3c" stroke-width="0.9"/>
<path d="M35.90 315.55L55.14 317.26L74.38 319.39L112.85 318.75L189.80 319.39" fill="none" stroke="#000" stroke-width="0.9"/>
<circle cx="35.90" cy="315.55" r="1.15" fill="#ccc" stroke="#000" stroke-width="0.7"/>
<circle cx="55.14" cy="317.26" r="1.15" fill="#ccc" stroke="#000" stroke-width="0.7"/>
<circle cx="74.38" cy="319.39" r="1.15" fill="#ccc" stroke="#000" stroke-width="0.7"/>
<circle cx="112.85" cy="318.75" r="1.15" fill="#ccc" stroke="#000" stroke-width="0.7"/>
<circle cx="189.80" cy="319.39" r="1.15" fill="#ccc" stroke="#000" stroke-width="0.7"/>
<path d="M35.90 315.76L55.14 306.80L74.38 299.76L112.85 301.25L189.80 306.37" fill="none" stroke="#000" stroke-width="0.9"/>
<rect x="34.75" y="314.61" width="2.30" height="2.30" fill="#ccc" stroke="#000" stroke-width="0.7"/>
<rect x="53.99" y="305.65" width="2.30" height="2.30" fill="#ccc" stroke="#000" stroke-width="0.7"/>
<rect x="73.22" y="298.61" width="2.30" height="2.30" fill="#ccc" stroke="#000" stroke-width="0.7"/>
<rect x="111.70" y="300.10" width="2.30" height="2.30" fill="#ccc" stroke="#000" stroke-width="0.7"/>
<rect x="188.65" y="305.22" width="2.30" height="2.30" fill="#ccc" stroke="#000" stroke-width="0.7"/>
<path d="M35.90 314.91L55.14 273.51L74.38 254.30L112.85 278.84L189.80 310.00" fill="none" stroke="#000" stroke-width="0.9"/>
<rect x="34.40" y="313.41" width="3.0" height="3.0" fill="#000"/>
<rect x="53.64" y="272.01" width="3.0" height="3.0" fill="#000"/>
<rect x="72.88" y="252.80" width="3.0" height="3.0" fill="#000"/>
<rect x="111.35" y="277.34" width="3.0" height="3.0" fill="#000"/>
<rect x="188.30" y="308.50" width="3.0" height="3.0" fill="#000"/>
<line x1="35.90" y1="316.40" x2="35.90" y2="311.50" stroke="#3c3c3c" stroke-width="0.9"/>
<line x1="34.80" y1="311.50" x2="37.00" y2="311.50" stroke="#3c3c3c" stroke-width="0.9"/>
<line x1="55.14" y1="272.87" x2="55.14" y2="241.50" stroke="#3c3c3c" stroke-width="0.9"/>
<line x1="54.04" y1="241.50" x2="56.24" y2="241.50" stroke="#3c3c3c" stroke-width="0.9"/>
<line x1="74.38" y1="258.79" x2="74.38" y2="228.48" stroke="#3c3c3c" stroke-width="0.9"/>
<line x1="73.28" y1="228.48" x2="75.47" y2="228.48" stroke="#3c3c3c" stroke-width="0.9"/>
<line x1="112.85" y1="262.63" x2="112.85" y2="243.42" stroke="#3c3c3c" stroke-width="0.9"/>
<line x1="111.75" y1="243.42" x2="113.95" y2="243.42" stroke="#3c3c3c" stroke-width="0.9"/>
<line x1="189.80" y1="295.92" x2="189.80" y2="279.49" stroke="#3c3c3c" stroke-width="0.9"/>
<line x1="188.70" y1="279.49" x2="190.90" y2="279.49" stroke="#3c3c3c" stroke-width="0.9"/>
<path d="M35.90 316.40L55.14 272.87L74.38 258.79L112.85 262.63L189.80 295.92" fill="none" stroke="#000" stroke-width="0.9"/>
<circle cx="35.90" cy="316.40" r="1.50" fill="#000"/>
<circle cx="55.14" cy="272.87" r="1.50" fill="#000"/>
<circle cx="74.38" cy="258.79" r="1.50" fill="#000"/>
<circle cx="112.85" cy="262.63" r="1.50" fill="#000"/>
<circle cx="189.80" cy="295.92" r="1.50" fill="#000"/>
<line x1="248.00" y1="314.84" x2="248.00" y2="320.55" stroke="#3c3c3c" stroke-width="0.9"/>
<line x1="246.90" y1="320.55" x2="249.10" y2="320.55" stroke="#3c3c3c" stroke-width="0.9"/>
<line x1="267.27" y1="316.27" x2="267.27" y2="321.45" stroke="#3c3c3c" stroke-width="0.9"/>
<line x1="266.17" y1="321.45" x2="268.38" y2="321.45" stroke="#3c3c3c" stroke-width="0.9"/>
<line x1="286.55" y1="316.62" x2="286.55" y2="321.80" stroke="#3c3c3c" stroke-width="0.9"/>
<line x1="285.45" y1="321.80" x2="287.65" y2="321.80" stroke="#3c3c3c" stroke-width="0.9"/>
<line x1="325.10" y1="316.27" x2="325.10" y2="321.45" stroke="#3c3c3c" stroke-width="0.9"/>
<line x1="324.00" y1="321.45" x2="326.20" y2="321.45" stroke="#3c3c3c" stroke-width="0.9"/>
<line x1="402.20" y1="316.98" x2="402.20" y2="321.45" stroke="#3c3c3c" stroke-width="0.9"/>
<line x1="401.10" y1="321.45" x2="403.30" y2="321.45" stroke="#3c3c3c" stroke-width="0.9"/>
<path d="M248.00 314.84L267.27 316.27L286.55 316.62L325.10 316.27L402.20 316.98" fill="none" stroke="#000" stroke-width="0.9"/>
<circle cx="248.00" cy="314.84" r="1.15" fill="#ccc" stroke="#000" stroke-width="0.7"/>
<circle cx="267.27" cy="316.27" r="1.15" fill="#ccc" stroke="#000" stroke-width="0.7"/>
<circle cx="286.55" cy="316.62" r="1.15" fill="#ccc" stroke="#000" stroke-width="0.7"/>
<circle cx="325.10" cy="316.27" r="1.15" fill="#ccc" stroke="#000" stroke-width="0.7"/>
<circle cx="402.20" cy="316.98" r="1.15" fill="#ccc" stroke="#000" stroke-width="0.7"/>
<path d="M248.00 314.12L267.27 308.76L286.55 303.04L325.10 300.54L402.20 303.22" fill="none" stroke="#000" stroke-width="0.9"/>
<rect x="246.85" y="312.97" width="2.30" height="2.30" fill="#ccc" stroke="#000" stroke-width="0.7"/>
<rect x="266.12" y="307.61" width="2.30" height="2.30" fill="#ccc" stroke="#000" stroke-width="0.7"/>
<rect x="285.40" y="301.89" width="2.30" height="2.30" fill="#ccc" stroke="#000" stroke-width="0.7"/>
<rect x="323.95" y="299.39" width="2.30" height="2.30" fill="#ccc" stroke="#000" stroke-width="0.7"/>
<rect x="401.05" y="302.07" width="2.30" height="2.30" fill="#ccc" stroke="#000" stroke-width="0.7"/>
<path d="M248.00 314.12L267.27 297.86L286.55 283.03L325.10 283.57L402.20 303.22" fill="none" stroke="#000" stroke-width="0.9"/>
<rect x="246.50" y="312.62" width="3.0" height="3.0" fill="#000"/>
<rect x="265.77" y="296.36" width="3.0" height="3.0" fill="#000"/>
<rect x="285.05" y="281.53" width="3.0" height="3.0" fill="#000"/>
<rect x="323.60" y="282.07" width="3.0" height="3.0" fill="#000"/>
<rect x="400.70" y="301.72" width="3.0" height="3.0" fill="#000"/>
<line x1="248.00" y1="314.12" x2="248.00" y2="309.83" stroke="#3c3c3c" stroke-width="0.9"/>
<line x1="246.90" y1="309.83" x2="249.10" y2="309.83" stroke="#3c3c3c" stroke-width="0.9"/>
<line x1="267.27" y1="296.08" x2="267.27" y2="278.57" stroke="#3c3c3c" stroke-width="0.9"/>
<line x1="266.17" y1="278.57" x2="268.38" y2="278.57" stroke="#3c3c3c" stroke-width="0.9"/>
<line x1="286.55" y1="278.57" x2="286.55" y2="249.98" stroke="#3c3c3c" stroke-width="0.9"/>
<line x1="285.45" y1="249.98" x2="287.65" y2="249.98" stroke="#3c3c3c" stroke-width="0.9"/>
<line x1="325.10" y1="268.74" x2="325.10" y2="234.79" stroke="#3c3c3c" stroke-width="0.9"/>
<line x1="324.00" y1="234.79" x2="326.20" y2="234.79" stroke="#3c3c3c" stroke-width="0.9"/>
<line x1="402.20" y1="287.68" x2="402.20" y2="267.85" stroke="#3c3c3c" stroke-width="0.9"/>
<line x1="401.10" y1="267.85" x2="403.30" y2="267.85" stroke="#3c3c3c" stroke-width="0.9"/>
<path d="M248.00 314.12L267.27 296.08L286.55 278.57L325.10 268.74L402.20 287.68" fill="none" stroke="#000" stroke-width="0.9"/>
<path d="M248.00 312.32L249.80 315.62L246.20 315.62Z" fill="#000"/>
<path d="M267.27 294.28L269.07 297.58L265.47 297.58Z" fill="#000"/>
<path d="M286.55 276.77L288.35 280.07L284.75 280.07Z" fill="#000"/>
<path d="M325.10 266.94L326.90 270.24L323.30 270.24Z" fill="#000"/>
<path d="M402.20 285.88L404.00 289.18L400.40 289.18Z" fill="#000"/>
<line x1="40.60" y1="431.47" x2="40.60" y2="493.91" stroke="#3c3c3c" stroke-width="0.9"/>
<line x1="39.60" y1="431.47" x2="41.60" y2="431.47" stroke="#3c3c3c" stroke-width="0.9"/>
<line x1="39.60" y1="493.91" x2="41.60" y2="493.91" stroke="#3c3c3c" stroke-width="0.9"/>
<line x1="59.90" y1="438.44" x2="59.90" y2="500.93" stroke="#3c3c3c" stroke-width="0.9"/>
<line x1="58.90" y1="438.44" x2="60.90" y2="438.44" stroke="#3c3c3c" stroke-width="0.9"/>
<line x1="58.90" y1="500.93" x2="60.90" y2="500.93" stroke="#3c3c3c" stroke-width="0.9"/>
<line x1="79.20" y1="451.56" x2="79.20" y2="506.34" stroke="#3c3c3c" stroke-width="0.9"/>
<line x1="78.20" y1="451.56" x2="80.20" y2="451.56" stroke="#3c3c3c" stroke-width="0.9"/>
<line x1="78.20" y1="506.34" x2="80.20" y2="506.34" stroke="#3c3c3c" stroke-width="0.9"/>
<line x1="117.80" y1="451.13" x2="117.80" y2="508.16" stroke="#3c3c3c" stroke-width="0.9"/>
<line x1="116.80" y1="451.13" x2="118.80" y2="451.13" stroke="#3c3c3c" stroke-width="0.9"/>
<line x1="116.80" y1="508.16" x2="118.80" y2="508.16" stroke="#3c3c3c" stroke-width="0.9"/>
<line x1="195.00" y1="456.59" x2="195.00" y2="507.62" stroke="#3c3c3c" stroke-width="0.9"/>
<line x1="194.00" y1="456.59" x2="196.00" y2="456.59" stroke="#3c3c3c" stroke-width="0.9"/>
<line x1="194.00" y1="507.62" x2="196.00" y2="507.62" stroke="#3c3c3c" stroke-width="0.9"/>
<path d="M40.60 469.87L59.90 473.35L79.20 479.08L117.80 482.40L195.00 487.97" fill="none" stroke="#000" stroke-width="0.9"/>
<circle cx="40.60" cy="469.87" r="1.15" fill="#ccc" stroke="#000" stroke-width="0.7"/>
<circle cx="59.90" cy="473.35" r="1.15" fill="#ccc" stroke="#000" stroke-width="0.7"/>
<circle cx="79.20" cy="479.08" r="1.15" fill="#ccc" stroke="#000" stroke-width="0.7"/>
<circle cx="117.80" cy="482.40" r="1.15" fill="#ccc" stroke="#000" stroke-width="0.7"/>
<circle cx="195.00" cy="487.97" r="1.15" fill="#ccc" stroke="#000" stroke-width="0.7"/>
<path d="M40.60 465.75L59.90 471.58L79.20 478.38L117.80 476.89L195.00 487.97" fill="none" stroke="#000" stroke-width="0.9"/>
<rect x="39.10" y="464.25" width="3.0" height="3.0" fill="#000"/>
<rect x="58.40" y="470.08" width="3.0" height="3.0" fill="#000"/>
<rect x="77.70" y="476.88" width="3.0" height="3.0" fill="#000"/>
<rect x="116.30" y="475.39" width="3.0" height="3.0" fill="#000"/>
<rect x="193.50" y="486.47" width="3.0" height="3.0" fill="#000"/>
<path d="M40.60 465.64L59.90 471.37L79.20 473.19L117.80 475.06L195.00 480.79" fill="none" stroke="#000" stroke-width="0.9"/>
<circle cx="40.60" cy="465.64" r="1.50" fill="#000"/>
<circle cx="59.90" cy="471.37" r="1.50" fill="#000"/>
<circle cx="79.20" cy="473.19" r="1.50" fill="#000"/>
<circle cx="117.80" cy="475.06" r="1.50" fill="#000"/>
<circle cx="195.00" cy="480.79" r="1.50" fill="#000"/>
</svg>
</body></html>
